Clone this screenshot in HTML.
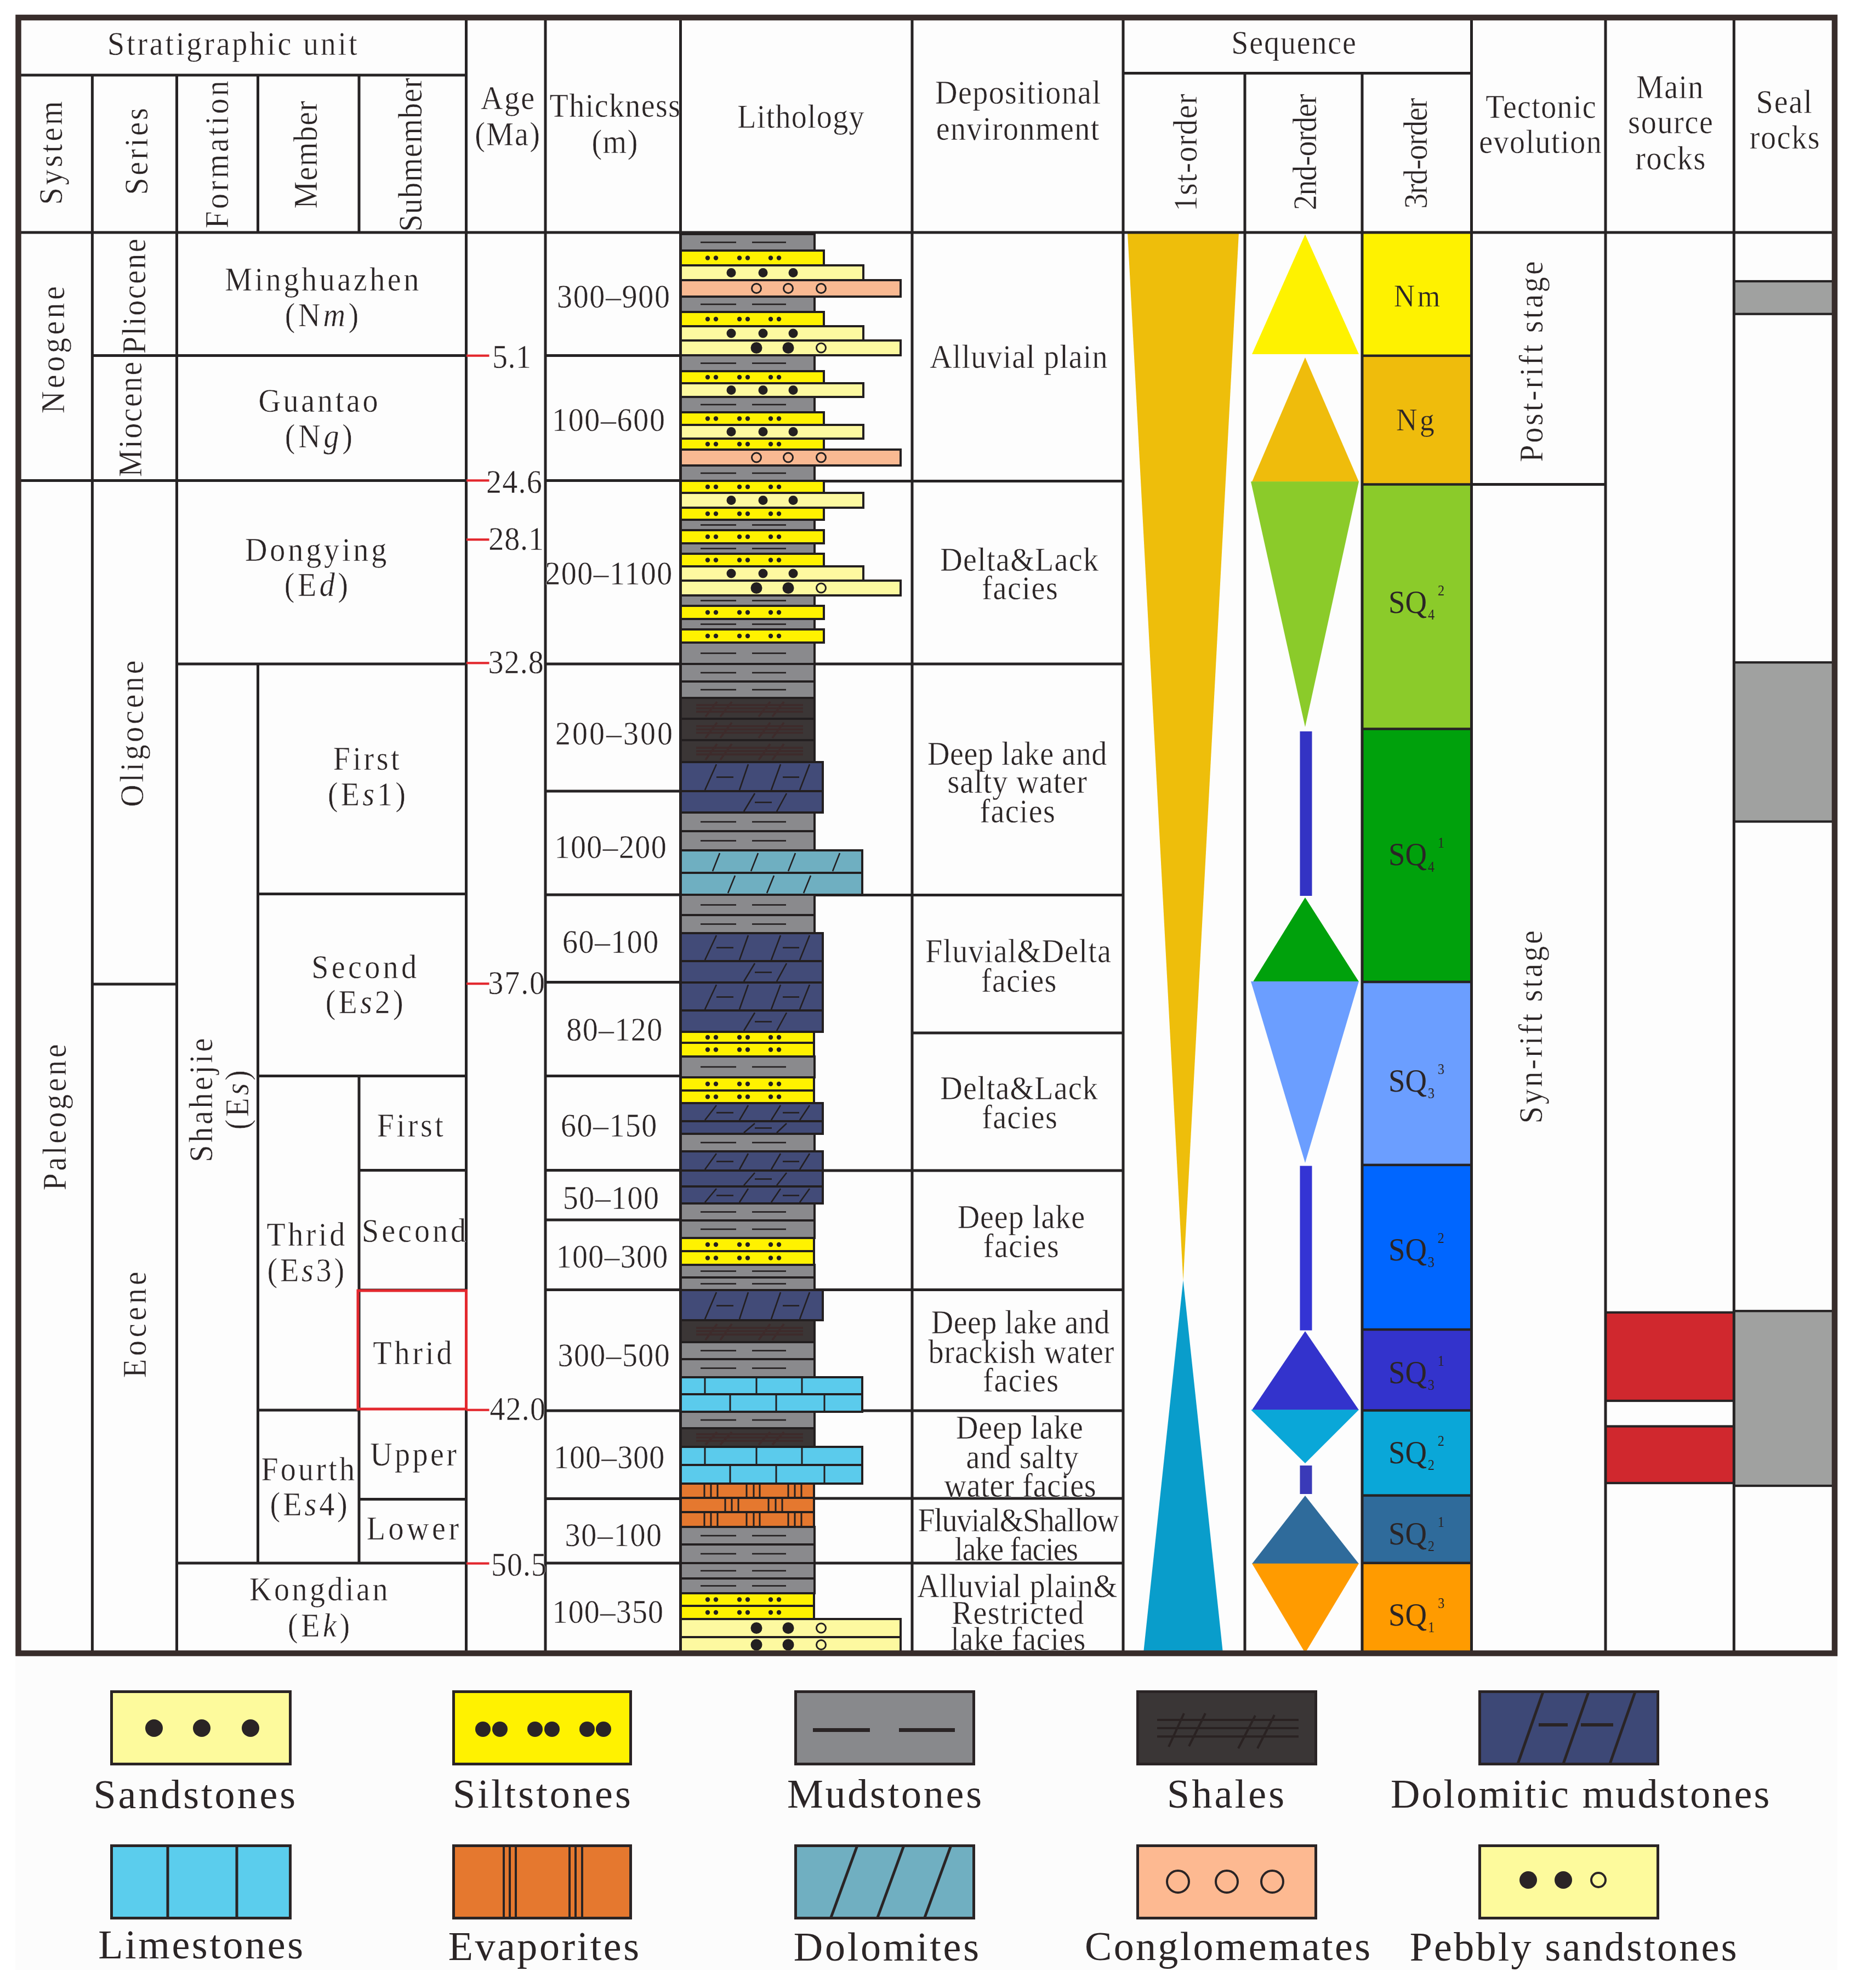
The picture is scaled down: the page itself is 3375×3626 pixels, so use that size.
<!DOCTYPE html><html><head><meta charset="utf-8"><style>html,body{margin:0;padding:0;background:#fff;width:3375px;height:3626px}svg{display:block}</style></head><body><svg width="3375" height="3626" viewBox="0 0 3375 3626">
<rect x="0" y="0" width="3375" height="3626" fill="#ffffff"/>
<rect x="28" y="3014" width="3324" height="579" fill="#fcfcfc"/>
<rect x="33" y="32" width="3314" height="2982" fill="#fdfdfd"/>
<polygon points="2057,424 2260,424 2158.5,2336" fill="#eebe0b"/>
<polygon points="2158.5,2335 2086,3015 2231,3015" fill="#099dcb"/>
<polygon points="2381,427.4 2284,646 2479,646" fill="#fef200"/>
<polygon points="2381,652 2284,878.8 2479,878.8" fill="#efbc0c"/>
<polygon points="2282,878.2 2479,878.2 2381,1326" fill="#8bcb2a"/>
<rect x="2371.5" y="1334" width="22" height="300" fill="#3333c4"/>
<polygon points="2381,1637 2286,1790.6 2479,1790.6" fill="#00a10c"/>
<polygon points="2282,1790 2479,1790 2381,2121" fill="#6b9eff"/>
<rect x="2371.5" y="2126.5" width="22" height="300" fill="#3434d4"/>
<polygon points="2381,2428 2284,2571.8 2479,2571.8" fill="#3333cc"/>
<polygon points="2282,2571.2 2479,2571.2 2381,2669" fill="#0aa7d8"/>
<rect x="2371.5" y="2673" width="22" height="52" fill="#3a3ab8"/>
<polygon points="2381,2728 2284,2852.3 2479,2852.3" fill="#2f6b9b"/>
<polygon points="2284,2851.7 2479,2851.7 2381,3015" fill="#ff9b00"/>
<rect x="2485" y="424" width="199.5" height="224.79999999999995" fill="#fef200"/>
<rect x="2485" y="648.8" width="199.5" height="234.70000000000005" fill="#efbc0c"/>
<rect x="2485" y="883.5" width="199.5" height="446.0" fill="#8bcb2a"/>
<rect x="2485" y="1329.5" width="199.5" height="461.5" fill="#00a10c"/>
<rect x="2485" y="1791" width="199.5" height="333.8000000000002" fill="#6b9eff"/>
<rect x="2485" y="2124.8" width="199.5" height="300.1999999999998" fill="#0066ff"/>
<rect x="2485" y="2425" width="199.5" height="147.5" fill="#3333cc"/>
<rect x="2485" y="2572.5" width="199.5" height="155.0999999999999" fill="#0aa7d8"/>
<rect x="2485" y="2727.6" width="199.5" height="123.20000000000027" fill="#2f6b9b"/>
<rect x="2485" y="2850.8" width="199.5" height="164.19999999999982" fill="#ff9b00"/>
<rect x="3163.3" y="513" width="184" height="59.700000000000045" fill="#a0a1a0"/>
<rect x="3163.3" y="1208.2" width="184" height="290.29999999999995" fill="#a0a1a0"/>
<rect x="3163.3" y="2391.2" width="184" height="318.8000000000002" fill="#a0a1a0"/>
<rect x="2929" y="2393.8" width="234.3" height="161.19999999999982" fill="#d0282e"/>
<rect x="2929" y="2601.5" width="234.3" height="103.5" fill="#d0282e"/>
<rect x="33" y="134.5" width="817.5" height="5" fill="#262324"/>
<rect x="2049" y="131.0" width="635.5" height="5" fill="#262324"/>
<rect x="33" y="421.5" width="3314" height="5" fill="#262324"/>
<rect x="165.9" y="137" width="5" height="287" fill="#262324"/>
<rect x="320.0" y="137" width="5" height="287" fill="#262324"/>
<rect x="468.0" y="137" width="5" height="287" fill="#262324"/>
<rect x="652.5" y="137" width="5" height="287" fill="#262324"/>
<rect x="2268.5" y="133.5" width="5" height="290.5" fill="#262324"/>
<rect x="2482.5" y="133.5" width="5" height="290.5" fill="#262324"/>
<rect x="848.0" y="32" width="5" height="392" fill="#262324"/>
<rect x="992.5" y="32" width="5" height="392" fill="#262324"/>
<rect x="1239.0" y="32" width="5" height="392" fill="#262324"/>
<rect x="1661.5" y="32" width="5" height="392" fill="#262324"/>
<rect x="2046.5" y="32" width="5" height="392" fill="#262324"/>
<rect x="2682.0" y="32" width="5" height="392" fill="#262324"/>
<rect x="2926.5" y="32" width="5" height="392" fill="#262324"/>
<rect x="3160.8" y="32" width="5" height="392" fill="#262324"/>
<rect x="165.9" y="424" width="5" height="2591" fill="#262324"/>
<rect x="320.0" y="424" width="5" height="2591" fill="#262324"/>
<rect x="468.0" y="1211" width="5" height="1640" fill="#262324"/>
<rect x="652.5" y="1962.5" width="5" height="888.5" fill="#262324"/>
<rect x="848.0" y="424" width="5" height="2591" fill="#262324"/>
<rect x="992.5" y="424" width="5" height="2591" fill="#262324"/>
<rect x="1239.0" y="424" width="5" height="2591" fill="#262324"/>
<rect x="1661.5" y="424" width="5" height="2591" fill="#262324"/>
<rect x="2046.5" y="424" width="5" height="2591" fill="#262324"/>
<rect x="2268.5" y="424" width="5" height="2591" fill="#262324"/>
<rect x="2482.5" y="424" width="5" height="2591" fill="#262324"/>
<rect x="2682.0" y="424" width="5" height="2591" fill="#262324"/>
<rect x="2926.5" y="424" width="5" height="2591" fill="#262324"/>
<rect x="3160.8" y="424" width="5" height="2591" fill="#262324"/>
<rect x="33" y="874.0" width="817.5" height="5" fill="#262324"/>
<rect x="168.4" y="646.0" width="682.1" height="5" fill="#262324"/>
<rect x="168.4" y="1792.5" width="154.1" height="5" fill="#262324"/>
<rect x="322.5" y="1208.5" width="528.0" height="5" fill="#262324"/>
<rect x="470.5" y="1628.0" width="380.0" height="5" fill="#262324"/>
<rect x="470.5" y="1960.0" width="380.0" height="5" fill="#262324"/>
<rect x="470.5" y="2569.5" width="184.5" height="5" fill="#262324"/>
<rect x="322.5" y="2848.5" width="528.0" height="5" fill="#262324"/>
<rect x="655" y="2132.0" width="195.5" height="5" fill="#262324"/>
<rect x="655" y="2732.0" width="195.5" height="5" fill="#262324"/>
<rect x="655" y="2350.5" width="195.5" height="5" fill="#262324"/>
<rect x="995" y="646.0" width="246.5" height="5" fill="#262324"/>
<rect x="995" y="874.0" width="246.5" height="5" fill="#262324"/>
<rect x="995" y="1208.5" width="246.5" height="5" fill="#262324"/>
<rect x="995" y="1440.5" width="246.5" height="5" fill="#262324"/>
<rect x="995" y="1629.5" width="246.5" height="5" fill="#262324"/>
<rect x="995" y="1789.0" width="246.5" height="5" fill="#262324"/>
<rect x="995" y="1960.0" width="246.5" height="5" fill="#262324"/>
<rect x="995" y="2132.0" width="246.5" height="5" fill="#262324"/>
<rect x="995" y="2222.5" width="246.5" height="5" fill="#262324"/>
<rect x="995" y="2350.0" width="246.5" height="5" fill="#262324"/>
<rect x="995" y="2570.5" width="246.5" height="5" fill="#262324"/>
<rect x="995" y="2731.0" width="246.5" height="5" fill="#262324"/>
<rect x="995" y="2848.5" width="246.5" height="5" fill="#262324"/>
<rect x="1241.5" y="875.0" width="807.5" height="5" fill="#262324"/>
<rect x="1241.5" y="1208.5" width="807.5" height="5" fill="#262324"/>
<rect x="1241.5" y="1630.0" width="807.5" height="5" fill="#262324"/>
<rect x="1241.5" y="2132.5" width="807.5" height="5" fill="#262324"/>
<rect x="1241.5" y="2350.0" width="807.5" height="5" fill="#262324"/>
<rect x="1241.5" y="2570.5" width="807.5" height="5" fill="#262324"/>
<rect x="1241.5" y="2730.5" width="807.5" height="5" fill="#262324"/>
<rect x="1241.5" y="2848.5" width="807.5" height="5" fill="#262324"/>
<rect x="1664" y="1881.5" width="385" height="5" fill="#262324"/>
<rect x="2485" y="646.55" width="199.5" height="4.5" fill="#262324"/>
<rect x="2485" y="881.25" width="199.5" height="4.5" fill="#262324"/>
<rect x="2485" y="1327.25" width="199.5" height="4.5" fill="#262324"/>
<rect x="2485" y="1788.75" width="199.5" height="4.5" fill="#262324"/>
<rect x="2485" y="2122.55" width="199.5" height="4.5" fill="#262324"/>
<rect x="2485" y="2422.75" width="199.5" height="4.5" fill="#262324"/>
<rect x="2485" y="2570.25" width="199.5" height="4.5" fill="#262324"/>
<rect x="2485" y="2725.35" width="199.5" height="4.5" fill="#262324"/>
<rect x="2485" y="2848.55" width="199.5" height="4.5" fill="#262324"/>
<rect x="2684.5" y="881.0" width="244.5" height="5" fill="#262324"/>
<rect x="3163.3" y="510.9" width="183.69999999999982" height="4.2" fill="#262324"/>
<rect x="3163.3" y="570.6" width="183.69999999999982" height="4.2" fill="#262324"/>
<rect x="3163.3" y="1206.1000000000001" width="183.69999999999982" height="4.2" fill="#262324"/>
<rect x="3163.3" y="1496.4" width="183.69999999999982" height="4.2" fill="#262324"/>
<rect x="3163.3" y="2389.1" width="183.69999999999982" height="4.2" fill="#262324"/>
<rect x="3163.3" y="2707.9" width="183.69999999999982" height="4.2" fill="#262324"/>
<rect x="2929" y="2391.7000000000003" width="234.30000000000018" height="4.2" fill="#262324"/>
<rect x="2929" y="2552.9" width="234.30000000000018" height="4.2" fill="#262324"/>
<rect x="2929" y="2599.4" width="234.30000000000018" height="4.2" fill="#262324"/>
<rect x="2929" y="2702.9" width="234.30000000000018" height="4.2" fill="#262324"/>
<rect x="1242" y="427" width="244" height="30" fill="#8a8a8d" stroke="#231f20" stroke-width="4"/>
<rect x="1278" y="440.7" width="65" height="2.6" fill="#231f20"/><rect x="1372" y="440.7" width="62" height="2.6" fill="#231f20"/>
<rect x="1242" y="457" width="261" height="27" fill="#fff200" stroke="#231f20" stroke-width="4"/>
<circle cx="1291" cy="470.5" r="4.2" fill="#231f20"/>
<circle cx="1306" cy="470.5" r="4.2" fill="#231f20"/>
<circle cx="1349" cy="470.5" r="4.2" fill="#231f20"/>
<circle cx="1364" cy="470.5" r="4.2" fill="#231f20"/>
<circle cx="1406" cy="470.5" r="4.2" fill="#231f20"/>
<circle cx="1421" cy="470.5" r="4.2" fill="#231f20"/>
<rect x="1242" y="484" width="333" height="27" fill="#fdf9a0" stroke="#231f20" stroke-width="4"/>
<circle cx="1334" cy="497.5" r="8.5" fill="#231f20"/>
<circle cx="1392" cy="497.5" r="8.5" fill="#231f20"/>
<circle cx="1447" cy="497.5" r="8.5" fill="#231f20"/>
<rect x="1242" y="511" width="401" height="30" fill="#f9b992" stroke="#231f20" stroke-width="4"/>
<circle cx="1380" cy="526.0" r="8.5" fill="none" stroke="#231f20" stroke-width="3"/>
<circle cx="1438" cy="526.0" r="8.5" fill="none" stroke="#231f20" stroke-width="3"/>
<circle cx="1498" cy="526.0" r="8.5" fill="none" stroke="#231f20" stroke-width="3"/>
<rect x="1242" y="541" width="244" height="28" fill="#8a8a8d" stroke="#231f20" stroke-width="4"/>
<rect x="1278" y="553.7" width="65" height="2.6" fill="#231f20"/><rect x="1372" y="553.7" width="62" height="2.6" fill="#231f20"/>
<rect x="1242" y="569" width="261" height="26" fill="#fff200" stroke="#231f20" stroke-width="4"/>
<circle cx="1291" cy="582.0" r="4.2" fill="#231f20"/>
<circle cx="1306" cy="582.0" r="4.2" fill="#231f20"/>
<circle cx="1349" cy="582.0" r="4.2" fill="#231f20"/>
<circle cx="1364" cy="582.0" r="4.2" fill="#231f20"/>
<circle cx="1406" cy="582.0" r="4.2" fill="#231f20"/>
<circle cx="1421" cy="582.0" r="4.2" fill="#231f20"/>
<rect x="1242" y="595" width="333" height="26" fill="#fdf9a0" stroke="#231f20" stroke-width="4"/>
<circle cx="1334" cy="608.0" r="8.5" fill="#231f20"/>
<circle cx="1392" cy="608.0" r="8.5" fill="#231f20"/>
<circle cx="1447" cy="608.0" r="8.5" fill="#231f20"/>
<rect x="1242" y="621" width="401" height="27" fill="#fdf9a0" stroke="#231f20" stroke-width="4"/>
<circle cx="1380" cy="634.5" r="10.5" fill="#231f20"/>
<circle cx="1438" cy="634.5" r="10.5" fill="#231f20"/>
<circle cx="1498" cy="634.5" r="8.5" fill="none" stroke="#231f20" stroke-width="3"/>
<rect x="1242" y="648" width="244" height="29" fill="#8a8a8d" stroke="#231f20" stroke-width="4"/>
<rect x="1278" y="661.2" width="65" height="2.6" fill="#231f20"/><rect x="1372" y="661.2" width="62" height="2.6" fill="#231f20"/>
<rect x="1242" y="677" width="261" height="22" fill="#fff200" stroke="#231f20" stroke-width="4"/>
<circle cx="1291" cy="688.0" r="4.2" fill="#231f20"/>
<circle cx="1306" cy="688.0" r="4.2" fill="#231f20"/>
<circle cx="1349" cy="688.0" r="4.2" fill="#231f20"/>
<circle cx="1364" cy="688.0" r="4.2" fill="#231f20"/>
<circle cx="1406" cy="688.0" r="4.2" fill="#231f20"/>
<circle cx="1421" cy="688.0" r="4.2" fill="#231f20"/>
<rect x="1242" y="699" width="333" height="25" fill="#fdf9a0" stroke="#231f20" stroke-width="4"/>
<circle cx="1334" cy="711.5" r="8.5" fill="#231f20"/>
<circle cx="1392" cy="711.5" r="8.5" fill="#231f20"/>
<circle cx="1447" cy="711.5" r="8.5" fill="#231f20"/>
<rect x="1242" y="724" width="244" height="28" fill="#8a8a8d" stroke="#231f20" stroke-width="4"/>
<rect x="1278" y="736.7" width="65" height="2.6" fill="#231f20"/><rect x="1372" y="736.7" width="62" height="2.6" fill="#231f20"/>
<rect x="1242" y="752" width="261" height="23" fill="#fff200" stroke="#231f20" stroke-width="4"/>
<circle cx="1291" cy="763.5" r="4.2" fill="#231f20"/>
<circle cx="1306" cy="763.5" r="4.2" fill="#231f20"/>
<circle cx="1349" cy="763.5" r="4.2" fill="#231f20"/>
<circle cx="1364" cy="763.5" r="4.2" fill="#231f20"/>
<circle cx="1406" cy="763.5" r="4.2" fill="#231f20"/>
<circle cx="1421" cy="763.5" r="4.2" fill="#231f20"/>
<rect x="1242" y="775" width="333" height="25" fill="#fdf9a0" stroke="#231f20" stroke-width="4"/>
<circle cx="1334" cy="787.5" r="8.5" fill="#231f20"/>
<circle cx="1392" cy="787.5" r="8.5" fill="#231f20"/>
<circle cx="1447" cy="787.5" r="8.5" fill="#231f20"/>
<rect x="1242" y="800" width="261" height="20" fill="#fff200" stroke="#231f20" stroke-width="4"/>
<circle cx="1291" cy="810.0" r="4.2" fill="#231f20"/>
<circle cx="1306" cy="810.0" r="4.2" fill="#231f20"/>
<circle cx="1349" cy="810.0" r="4.2" fill="#231f20"/>
<circle cx="1364" cy="810.0" r="4.2" fill="#231f20"/>
<circle cx="1406" cy="810.0" r="4.2" fill="#231f20"/>
<circle cx="1421" cy="810.0" r="4.2" fill="#231f20"/>
<rect x="1242" y="820" width="401" height="29" fill="#f9b992" stroke="#231f20" stroke-width="4"/>
<circle cx="1380" cy="834.5" r="8.5" fill="none" stroke="#231f20" stroke-width="3"/>
<circle cx="1438" cy="834.5" r="8.5" fill="none" stroke="#231f20" stroke-width="3"/>
<circle cx="1498" cy="834.5" r="8.5" fill="none" stroke="#231f20" stroke-width="3"/>
<rect x="1242" y="849" width="244" height="28" fill="#8a8a8d" stroke="#231f20" stroke-width="4"/>
<rect x="1278" y="861.7" width="65" height="2.6" fill="#231f20"/><rect x="1372" y="861.7" width="62" height="2.6" fill="#231f20"/>
<rect x="1242" y="877" width="261" height="22" fill="#fff200" stroke="#231f20" stroke-width="4"/>
<circle cx="1291" cy="888.0" r="4.2" fill="#231f20"/>
<circle cx="1306" cy="888.0" r="4.2" fill="#231f20"/>
<circle cx="1349" cy="888.0" r="4.2" fill="#231f20"/>
<circle cx="1364" cy="888.0" r="4.2" fill="#231f20"/>
<circle cx="1406" cy="888.0" r="4.2" fill="#231f20"/>
<circle cx="1421" cy="888.0" r="4.2" fill="#231f20"/>
<rect x="1242" y="899" width="333" height="27" fill="#fdf9a0" stroke="#231f20" stroke-width="4"/>
<circle cx="1334" cy="912.5" r="8.5" fill="#231f20"/>
<circle cx="1392" cy="912.5" r="8.5" fill="#231f20"/>
<circle cx="1447" cy="912.5" r="8.5" fill="#231f20"/>
<rect x="1242" y="926" width="261" height="22" fill="#fff200" stroke="#231f20" stroke-width="4"/>
<circle cx="1291" cy="937.0" r="4.2" fill="#231f20"/>
<circle cx="1306" cy="937.0" r="4.2" fill="#231f20"/>
<circle cx="1349" cy="937.0" r="4.2" fill="#231f20"/>
<circle cx="1364" cy="937.0" r="4.2" fill="#231f20"/>
<circle cx="1406" cy="937.0" r="4.2" fill="#231f20"/>
<circle cx="1421" cy="937.0" r="4.2" fill="#231f20"/>
<rect x="1242" y="948" width="244" height="19" fill="#8a8a8d" stroke="#231f20" stroke-width="4"/>
<rect x="1278" y="956.2" width="65" height="2.6" fill="#231f20"/><rect x="1372" y="956.2" width="62" height="2.6" fill="#231f20"/>
<rect x="1242" y="967" width="261" height="24" fill="#fff200" stroke="#231f20" stroke-width="4"/>
<circle cx="1291" cy="979.0" r="4.2" fill="#231f20"/>
<circle cx="1306" cy="979.0" r="4.2" fill="#231f20"/>
<circle cx="1349" cy="979.0" r="4.2" fill="#231f20"/>
<circle cx="1364" cy="979.0" r="4.2" fill="#231f20"/>
<circle cx="1406" cy="979.0" r="4.2" fill="#231f20"/>
<circle cx="1421" cy="979.0" r="4.2" fill="#231f20"/>
<rect x="1242" y="991" width="244" height="19" fill="#8a8a8d" stroke="#231f20" stroke-width="4"/>
<rect x="1278" y="999.2" width="65" height="2.6" fill="#231f20"/><rect x="1372" y="999.2" width="62" height="2.6" fill="#231f20"/>
<rect x="1242" y="1010" width="261" height="23" fill="#fff200" stroke="#231f20" stroke-width="4"/>
<circle cx="1291" cy="1021.5" r="4.2" fill="#231f20"/>
<circle cx="1306" cy="1021.5" r="4.2" fill="#231f20"/>
<circle cx="1349" cy="1021.5" r="4.2" fill="#231f20"/>
<circle cx="1364" cy="1021.5" r="4.2" fill="#231f20"/>
<circle cx="1406" cy="1021.5" r="4.2" fill="#231f20"/>
<circle cx="1421" cy="1021.5" r="4.2" fill="#231f20"/>
<rect x="1242" y="1033" width="333" height="26" fill="#fdf9a0" stroke="#231f20" stroke-width="4"/>
<circle cx="1334" cy="1046.0" r="8.5" fill="#231f20"/>
<circle cx="1392" cy="1046.0" r="8.5" fill="#231f20"/>
<circle cx="1447" cy="1046.0" r="8.5" fill="#231f20"/>
<rect x="1242" y="1059" width="401" height="27" fill="#fdf9a0" stroke="#231f20" stroke-width="4"/>
<circle cx="1380" cy="1072.5" r="10.5" fill="#231f20"/>
<circle cx="1438" cy="1072.5" r="10.5" fill="#231f20"/>
<circle cx="1498" cy="1072.5" r="8.5" fill="none" stroke="#231f20" stroke-width="3"/>
<rect x="1242" y="1086" width="244" height="19" fill="#8a8a8d" stroke="#231f20" stroke-width="4"/>
<rect x="1278" y="1094.2" width="65" height="2.6" fill="#231f20"/><rect x="1372" y="1094.2" width="62" height="2.6" fill="#231f20"/>
<rect x="1242" y="1105" width="261" height="24" fill="#fff200" stroke="#231f20" stroke-width="4"/>
<circle cx="1291" cy="1117.0" r="4.2" fill="#231f20"/>
<circle cx="1306" cy="1117.0" r="4.2" fill="#231f20"/>
<circle cx="1349" cy="1117.0" r="4.2" fill="#231f20"/>
<circle cx="1364" cy="1117.0" r="4.2" fill="#231f20"/>
<circle cx="1406" cy="1117.0" r="4.2" fill="#231f20"/>
<circle cx="1421" cy="1117.0" r="4.2" fill="#231f20"/>
<rect x="1242" y="1129" width="244" height="19" fill="#8a8a8d" stroke="#231f20" stroke-width="4"/>
<rect x="1278" y="1137.2" width="65" height="2.6" fill="#231f20"/><rect x="1372" y="1137.2" width="62" height="2.6" fill="#231f20"/>
<rect x="1242" y="1148" width="261" height="24" fill="#fff200" stroke="#231f20" stroke-width="4"/>
<circle cx="1291" cy="1160.0" r="4.2" fill="#231f20"/>
<circle cx="1306" cy="1160.0" r="4.2" fill="#231f20"/>
<circle cx="1349" cy="1160.0" r="4.2" fill="#231f20"/>
<circle cx="1364" cy="1160.0" r="4.2" fill="#231f20"/>
<circle cx="1406" cy="1160.0" r="4.2" fill="#231f20"/>
<circle cx="1421" cy="1160.0" r="4.2" fill="#231f20"/>
<rect x="1242" y="1172" width="244" height="39" fill="#8a8a8d" stroke="#231f20" stroke-width="4"/>
<rect x="1278" y="1190.2" width="65" height="2.6" fill="#231f20"/><rect x="1372" y="1190.2" width="62" height="2.6" fill="#231f20"/>
<rect x="1242" y="1211" width="244" height="32" fill="#8a8a8d" stroke="#231f20" stroke-width="4"/>
<rect x="1278" y="1225.7" width="65" height="2.6" fill="#231f20"/><rect x="1372" y="1225.7" width="62" height="2.6" fill="#231f20"/>
<rect x="1242" y="1243" width="244" height="30" fill="#8a8a8d" stroke="#231f20" stroke-width="4"/>
<rect x="1278" y="1256.7" width="65" height="2.6" fill="#231f20"/><rect x="1372" y="1256.7" width="62" height="2.6" fill="#231f20"/>
<rect x="1242" y="1273" width="244" height="38" fill="#3b3636" stroke="#231f20" stroke-width="4"/>
<rect x="1270" y="1284.2" width="195" height="3.6" fill="#3e2b2b"/>
<rect x="1270" y="1290.2" width="195" height="3.6" fill="#3e2b2b"/>
<rect x="1270" y="1296.2" width="195" height="3.6" fill="#3e2b2b"/>
<line x1="1287" y1="1307" x2="1308" y2="1280" stroke="#3e2b2b" stroke-width="3.6"/>
<line x1="1314" y1="1307" x2="1335" y2="1280" stroke="#3e2b2b" stroke-width="3.6"/>
<line x1="1384" y1="1307" x2="1405" y2="1280" stroke="#3e2b2b" stroke-width="3.6"/>
<line x1="1409" y1="1307" x2="1430" y2="1280" stroke="#3e2b2b" stroke-width="3.6"/>
<rect x="1242" y="1311" width="244" height="39" fill="#3b3636" stroke="#231f20" stroke-width="4"/>
<rect x="1270" y="1322.7" width="195" height="3.6" fill="#3e2b2b"/>
<rect x="1270" y="1328.7" width="195" height="3.6" fill="#3e2b2b"/>
<rect x="1270" y="1334.7" width="195" height="3.6" fill="#3e2b2b"/>
<line x1="1287" y1="1346" x2="1308" y2="1318" stroke="#3e2b2b" stroke-width="3.6"/>
<line x1="1314" y1="1346" x2="1335" y2="1318" stroke="#3e2b2b" stroke-width="3.6"/>
<line x1="1384" y1="1346" x2="1405" y2="1318" stroke="#3e2b2b" stroke-width="3.6"/>
<line x1="1409" y1="1346" x2="1430" y2="1318" stroke="#3e2b2b" stroke-width="3.6"/>
<rect x="1242" y="1350" width="244" height="40" fill="#3b3636" stroke="#231f20" stroke-width="4"/>
<rect x="1270" y="1362.2" width="195" height="3.6" fill="#3e2b2b"/>
<rect x="1270" y="1368.2" width="195" height="3.6" fill="#3e2b2b"/>
<rect x="1270" y="1374.2" width="195" height="3.6" fill="#3e2b2b"/>
<line x1="1287" y1="1386" x2="1308" y2="1357" stroke="#3e2b2b" stroke-width="3.6"/>
<line x1="1314" y1="1386" x2="1335" y2="1357" stroke="#3e2b2b" stroke-width="3.6"/>
<line x1="1384" y1="1386" x2="1405" y2="1357" stroke="#3e2b2b" stroke-width="3.6"/>
<line x1="1409" y1="1386" x2="1430" y2="1357" stroke="#3e2b2b" stroke-width="3.6"/>
<rect x="1242" y="1390" width="259" height="53" fill="#424b78" stroke="#231f20" stroke-width="4"/>
<line x1="1286" y1="1441" x2="1307" y2="1394" stroke="#231f20" stroke-width="2.6"/>
<line x1="1307" y1="1417.5" x2="1338" y2="1417.5" stroke="#231f20" stroke-width="2.6"/>
<line x1="1349" y1="1441" x2="1365" y2="1394" stroke="#231f20" stroke-width="2.6"/>
<line x1="1407" y1="1441" x2="1424" y2="1394" stroke="#231f20" stroke-width="2.6"/>
<line x1="1428" y1="1417.5" x2="1458" y2="1417.5" stroke="#231f20" stroke-width="2.6"/>
<line x1="1459" y1="1441" x2="1477" y2="1394" stroke="#231f20" stroke-width="2.6"/>
<rect x="1242" y="1443" width="259" height="39" fill="#424b78" stroke="#231f20" stroke-width="4"/>
<line x1="1357" y1="1480" x2="1377" y2="1447" stroke="#231f20" stroke-width="2.6"/>
<line x1="1377" y1="1463.5" x2="1408" y2="1463.5" stroke="#231f20" stroke-width="2.6"/>
<line x1="1417" y1="1480" x2="1435" y2="1447" stroke="#231f20" stroke-width="2.6"/>
<rect x="1242" y="1482" width="244" height="34" fill="#8a8a8d" stroke="#231f20" stroke-width="4"/>
<rect x="1278" y="1497.7" width="65" height="2.6" fill="#231f20"/><rect x="1372" y="1497.7" width="62" height="2.6" fill="#231f20"/>
<rect x="1242" y="1516" width="244" height="35" fill="#8a8a8d" stroke="#231f20" stroke-width="4"/>
<rect x="1278" y="1532.2" width="65" height="2.6" fill="#231f20"/><rect x="1372" y="1532.2" width="62" height="2.6" fill="#231f20"/>
<rect x="1242" y="1551" width="331" height="41" fill="#6fafc1" stroke="#231f20" stroke-width="4"/>
<line x1="1300" y1="1589" x2="1313" y2="1556" stroke="#231f20" stroke-width="2.6"/>
<line x1="1370" y1="1589" x2="1383" y2="1556" stroke="#231f20" stroke-width="2.6"/>
<line x1="1438" y1="1589" x2="1451" y2="1556" stroke="#231f20" stroke-width="2.6"/>
<line x1="1519" y1="1589" x2="1532" y2="1556" stroke="#231f20" stroke-width="2.6"/>
<rect x="1242" y="1592" width="331" height="40" fill="#6fafc1" stroke="#231f20" stroke-width="4"/>
<line x1="1328" y1="1629" x2="1341" y2="1597" stroke="#231f20" stroke-width="2.6"/>
<line x1="1399" y1="1629" x2="1412" y2="1597" stroke="#231f20" stroke-width="2.6"/>
<line x1="1466" y1="1629" x2="1479" y2="1597" stroke="#231f20" stroke-width="2.6"/>
<rect x="1242" y="1632" width="244" height="37" fill="#8a8a8d" stroke="#231f20" stroke-width="4"/>
<rect x="1278" y="1649.2" width="65" height="2.6" fill="#231f20"/><rect x="1372" y="1649.2" width="62" height="2.6" fill="#231f20"/>
<rect x="1242" y="1669" width="244" height="33" fill="#8a8a8d" stroke="#231f20" stroke-width="4"/>
<rect x="1278" y="1684.2" width="65" height="2.6" fill="#231f20"/><rect x="1372" y="1684.2" width="62" height="2.6" fill="#231f20"/>
<rect x="1242" y="1702" width="259" height="51" fill="#424b78" stroke="#231f20" stroke-width="4"/>
<line x1="1286" y1="1751" x2="1307" y2="1706" stroke="#231f20" stroke-width="2.6"/>
<line x1="1307" y1="1728.5" x2="1338" y2="1728.5" stroke="#231f20" stroke-width="2.6"/>
<line x1="1349" y1="1751" x2="1365" y2="1706" stroke="#231f20" stroke-width="2.6"/>
<line x1="1407" y1="1751" x2="1424" y2="1706" stroke="#231f20" stroke-width="2.6"/>
<line x1="1428" y1="1728.5" x2="1458" y2="1728.5" stroke="#231f20" stroke-width="2.6"/>
<line x1="1459" y1="1751" x2="1477" y2="1706" stroke="#231f20" stroke-width="2.6"/>
<rect x="1242" y="1753" width="259" height="39" fill="#424b78" stroke="#231f20" stroke-width="4"/>
<line x1="1357" y1="1790" x2="1377" y2="1757" stroke="#231f20" stroke-width="2.6"/>
<line x1="1377" y1="1773.5" x2="1408" y2="1773.5" stroke="#231f20" stroke-width="2.6"/>
<line x1="1417" y1="1790" x2="1435" y2="1757" stroke="#231f20" stroke-width="2.6"/>
<rect x="1242" y="1792" width="259" height="51" fill="#424b78" stroke="#231f20" stroke-width="4"/>
<line x1="1286" y1="1841" x2="1307" y2="1796" stroke="#231f20" stroke-width="2.6"/>
<line x1="1307" y1="1818.5" x2="1338" y2="1818.5" stroke="#231f20" stroke-width="2.6"/>
<line x1="1349" y1="1841" x2="1365" y2="1796" stroke="#231f20" stroke-width="2.6"/>
<line x1="1407" y1="1841" x2="1424" y2="1796" stroke="#231f20" stroke-width="2.6"/>
<line x1="1428" y1="1818.5" x2="1458" y2="1818.5" stroke="#231f20" stroke-width="2.6"/>
<line x1="1459" y1="1841" x2="1477" y2="1796" stroke="#231f20" stroke-width="2.6"/>
<rect x="1242" y="1843" width="259" height="39" fill="#424b78" stroke="#231f20" stroke-width="4"/>
<line x1="1357" y1="1880" x2="1377" y2="1847" stroke="#231f20" stroke-width="2.6"/>
<line x1="1377" y1="1863.5" x2="1408" y2="1863.5" stroke="#231f20" stroke-width="2.6"/>
<line x1="1417" y1="1880" x2="1435" y2="1847" stroke="#231f20" stroke-width="2.6"/>
<rect x="1242" y="1882" width="243" height="20" fill="#fff200" stroke="#231f20" stroke-width="4"/>
<circle cx="1291" cy="1892.0" r="4.2" fill="#231f20"/>
<circle cx="1306" cy="1892.0" r="4.2" fill="#231f20"/>
<circle cx="1349" cy="1892.0" r="4.2" fill="#231f20"/>
<circle cx="1364" cy="1892.0" r="4.2" fill="#231f20"/>
<circle cx="1406" cy="1892.0" r="4.2" fill="#231f20"/>
<circle cx="1421" cy="1892.0" r="4.2" fill="#231f20"/>
<rect x="1242" y="1902" width="243" height="25" fill="#fff200" stroke="#231f20" stroke-width="4"/>
<circle cx="1291" cy="1914.5" r="4.2" fill="#231f20"/>
<circle cx="1306" cy="1914.5" r="4.2" fill="#231f20"/>
<circle cx="1349" cy="1914.5" r="4.2" fill="#231f20"/>
<circle cx="1364" cy="1914.5" r="4.2" fill="#231f20"/>
<circle cx="1406" cy="1914.5" r="4.2" fill="#231f20"/>
<circle cx="1421" cy="1914.5" r="4.2" fill="#231f20"/>
<rect x="1242" y="1927" width="244" height="38" fill="#8a8a8d" stroke="#231f20" stroke-width="4"/>
<rect x="1278" y="1944.7" width="65" height="2.6" fill="#231f20"/><rect x="1372" y="1944.7" width="62" height="2.6" fill="#231f20"/>
<rect x="1242" y="1965" width="243" height="24" fill="#fff200" stroke="#231f20" stroke-width="4"/>
<circle cx="1291" cy="1977.0" r="4.2" fill="#231f20"/>
<circle cx="1306" cy="1977.0" r="4.2" fill="#231f20"/>
<circle cx="1349" cy="1977.0" r="4.2" fill="#231f20"/>
<circle cx="1364" cy="1977.0" r="4.2" fill="#231f20"/>
<circle cx="1406" cy="1977.0" r="4.2" fill="#231f20"/>
<circle cx="1421" cy="1977.0" r="4.2" fill="#231f20"/>
<rect x="1242" y="1989" width="243" height="23" fill="#fff200" stroke="#231f20" stroke-width="4"/>
<circle cx="1291" cy="2000.5" r="4.2" fill="#231f20"/>
<circle cx="1306" cy="2000.5" r="4.2" fill="#231f20"/>
<circle cx="1349" cy="2000.5" r="4.2" fill="#231f20"/>
<circle cx="1364" cy="2000.5" r="4.2" fill="#231f20"/>
<circle cx="1406" cy="2000.5" r="4.2" fill="#231f20"/>
<circle cx="1421" cy="2000.5" r="4.2" fill="#231f20"/>
<rect x="1242" y="2012" width="259" height="33" fill="#424b78" stroke="#231f20" stroke-width="4"/>
<line x1="1286" y1="2043" x2="1307" y2="2016" stroke="#231f20" stroke-width="2.6"/>
<line x1="1307" y1="2029.5" x2="1338" y2="2029.5" stroke="#231f20" stroke-width="2.6"/>
<line x1="1349" y1="2043" x2="1365" y2="2016" stroke="#231f20" stroke-width="2.6"/>
<line x1="1407" y1="2043" x2="1424" y2="2016" stroke="#231f20" stroke-width="2.6"/>
<line x1="1428" y1="2029.5" x2="1458" y2="2029.5" stroke="#231f20" stroke-width="2.6"/>
<line x1="1459" y1="2043" x2="1477" y2="2016" stroke="#231f20" stroke-width="2.6"/>
<rect x="1242" y="2045" width="259" height="23" fill="#424b78" stroke="#231f20" stroke-width="4"/>
<line x1="1357" y1="2066" x2="1377" y2="2049" stroke="#231f20" stroke-width="2.6"/>
<line x1="1377" y1="2057.5" x2="1408" y2="2057.5" stroke="#231f20" stroke-width="2.6"/>
<line x1="1417" y1="2066" x2="1435" y2="2049" stroke="#231f20" stroke-width="2.6"/>
<rect x="1242" y="2068" width="244" height="32" fill="#8a8a8d" stroke="#231f20" stroke-width="4"/>
<rect x="1278" y="2082.7" width="65" height="2.6" fill="#231f20"/><rect x="1372" y="2082.7" width="62" height="2.6" fill="#231f20"/>
<rect x="1242" y="2100" width="259" height="35" fill="#424b78" stroke="#231f20" stroke-width="4"/>
<line x1="1286" y1="2133" x2="1307" y2="2104" stroke="#231f20" stroke-width="2.6"/>
<line x1="1307" y1="2118.5" x2="1338" y2="2118.5" stroke="#231f20" stroke-width="2.6"/>
<line x1="1349" y1="2133" x2="1365" y2="2104" stroke="#231f20" stroke-width="2.6"/>
<line x1="1407" y1="2133" x2="1424" y2="2104" stroke="#231f20" stroke-width="2.6"/>
<line x1="1428" y1="2118.5" x2="1458" y2="2118.5" stroke="#231f20" stroke-width="2.6"/>
<line x1="1459" y1="2133" x2="1477" y2="2104" stroke="#231f20" stroke-width="2.6"/>
<rect x="1242" y="2135" width="259" height="29" fill="#424b78" stroke="#231f20" stroke-width="4"/>
<line x1="1357" y1="2162" x2="1377" y2="2139" stroke="#231f20" stroke-width="2.6"/>
<line x1="1377" y1="2150.5" x2="1408" y2="2150.5" stroke="#231f20" stroke-width="2.6"/>
<line x1="1417" y1="2162" x2="1435" y2="2139" stroke="#231f20" stroke-width="2.6"/>
<rect x="1242" y="2164" width="259" height="31" fill="#424b78" stroke="#231f20" stroke-width="4"/>
<line x1="1286" y1="2193" x2="1307" y2="2168" stroke="#231f20" stroke-width="2.6"/>
<line x1="1307" y1="2180.5" x2="1338" y2="2180.5" stroke="#231f20" stroke-width="2.6"/>
<line x1="1349" y1="2193" x2="1365" y2="2168" stroke="#231f20" stroke-width="2.6"/>
<line x1="1407" y1="2193" x2="1424" y2="2168" stroke="#231f20" stroke-width="2.6"/>
<line x1="1428" y1="2180.5" x2="1458" y2="2180.5" stroke="#231f20" stroke-width="2.6"/>
<line x1="1459" y1="2193" x2="1477" y2="2168" stroke="#231f20" stroke-width="2.6"/>
<rect x="1242" y="2195" width="244" height="31" fill="#8a8a8d" stroke="#231f20" stroke-width="4"/>
<rect x="1278" y="2209.2" width="65" height="2.6" fill="#231f20"/><rect x="1372" y="2209.2" width="62" height="2.6" fill="#231f20"/>
<rect x="1242" y="2226" width="244" height="32" fill="#8a8a8d" stroke="#231f20" stroke-width="4"/>
<rect x="1278" y="2240.7" width="65" height="2.6" fill="#231f20"/><rect x="1372" y="2240.7" width="62" height="2.6" fill="#231f20"/>
<rect x="1242" y="2258" width="243" height="24" fill="#fff200" stroke="#231f20" stroke-width="4"/>
<circle cx="1291" cy="2270.0" r="4.2" fill="#231f20"/>
<circle cx="1306" cy="2270.0" r="4.2" fill="#231f20"/>
<circle cx="1349" cy="2270.0" r="4.2" fill="#231f20"/>
<circle cx="1364" cy="2270.0" r="4.2" fill="#231f20"/>
<circle cx="1406" cy="2270.0" r="4.2" fill="#231f20"/>
<circle cx="1421" cy="2270.0" r="4.2" fill="#231f20"/>
<rect x="1242" y="2282" width="243" height="25" fill="#fff200" stroke="#231f20" stroke-width="4"/>
<circle cx="1291" cy="2294.5" r="4.2" fill="#231f20"/>
<circle cx="1306" cy="2294.5" r="4.2" fill="#231f20"/>
<circle cx="1349" cy="2294.5" r="4.2" fill="#231f20"/>
<circle cx="1364" cy="2294.5" r="4.2" fill="#231f20"/>
<circle cx="1406" cy="2294.5" r="4.2" fill="#231f20"/>
<circle cx="1421" cy="2294.5" r="4.2" fill="#231f20"/>
<rect x="1242" y="2307" width="244" height="23" fill="#8a8a8d" stroke="#231f20" stroke-width="4"/>
<rect x="1278" y="2317.2" width="65" height="2.6" fill="#231f20"/><rect x="1372" y="2317.2" width="62" height="2.6" fill="#231f20"/>
<rect x="1242" y="2330" width="244" height="23" fill="#8a8a8d" stroke="#231f20" stroke-width="4"/>
<rect x="1278" y="2340.2" width="65" height="2.6" fill="#231f20"/><rect x="1372" y="2340.2" width="62" height="2.6" fill="#231f20"/>
<rect x="1242" y="2353" width="259" height="55" fill="#424b78" stroke="#231f20" stroke-width="4"/>
<line x1="1286" y1="2406" x2="1307" y2="2357" stroke="#231f20" stroke-width="2.6"/>
<line x1="1307" y1="2381.5" x2="1338" y2="2381.5" stroke="#231f20" stroke-width="2.6"/>
<line x1="1349" y1="2406" x2="1365" y2="2357" stroke="#231f20" stroke-width="2.6"/>
<line x1="1407" y1="2406" x2="1424" y2="2357" stroke="#231f20" stroke-width="2.6"/>
<line x1="1428" y1="2381.5" x2="1458" y2="2381.5" stroke="#231f20" stroke-width="2.6"/>
<line x1="1459" y1="2406" x2="1477" y2="2357" stroke="#231f20" stroke-width="2.6"/>
<rect x="1242" y="2408" width="244" height="40" fill="#3b3636" stroke="#231f20" stroke-width="4"/>
<rect x="1270" y="2420.2" width="195" height="3.6" fill="#3e2b2b"/>
<rect x="1270" y="2426.2" width="195" height="3.6" fill="#3e2b2b"/>
<rect x="1270" y="2432.2" width="195" height="3.6" fill="#3e2b2b"/>
<line x1="1287" y1="2444" x2="1308" y2="2415" stroke="#3e2b2b" stroke-width="3.6"/>
<line x1="1314" y1="2444" x2="1335" y2="2415" stroke="#3e2b2b" stroke-width="3.6"/>
<line x1="1384" y1="2444" x2="1405" y2="2415" stroke="#3e2b2b" stroke-width="3.6"/>
<line x1="1409" y1="2444" x2="1430" y2="2415" stroke="#3e2b2b" stroke-width="3.6"/>
<rect x="1242" y="2448" width="244" height="31" fill="#8a8a8d" stroke="#231f20" stroke-width="4"/>
<rect x="1278" y="2462.2" width="65" height="2.6" fill="#231f20"/><rect x="1372" y="2462.2" width="62" height="2.6" fill="#231f20"/>
<rect x="1242" y="2479" width="244" height="33" fill="#8a8a8d" stroke="#231f20" stroke-width="4"/>
<rect x="1278" y="2494.2" width="65" height="2.6" fill="#231f20"/><rect x="1372" y="2494.2" width="62" height="2.6" fill="#231f20"/>
<rect x="1242" y="2512" width="331" height="31" fill="#5bcbec" stroke="#231f20" stroke-width="4"/>
<rect x="1284.5" y="2512" width="3" height="31" fill="#231f20"/>
<rect x="1378.5" y="2512" width="3" height="31" fill="#231f20"/>
<rect x="1461.5" y="2512" width="3" height="31" fill="#231f20"/>
<rect x="1242" y="2543" width="331" height="32" fill="#5bcbec" stroke="#231f20" stroke-width="4"/>
<rect x="1330.5" y="2543" width="3" height="32" fill="#231f20"/>
<rect x="1414.5" y="2543" width="3" height="32" fill="#231f20"/>
<rect x="1502.5" y="2543" width="3" height="32" fill="#231f20"/>
<rect x="1242" y="2575" width="244" height="30" fill="#8a8a8d" stroke="#231f20" stroke-width="4"/>
<rect x="1278" y="2588.7" width="65" height="2.6" fill="#231f20"/><rect x="1372" y="2588.7" width="62" height="2.6" fill="#231f20"/>
<rect x="1242" y="2605" width="244" height="34" fill="#3b3636" stroke="#231f20" stroke-width="4"/>
<rect x="1270" y="2614.2" width="195" height="3.6" fill="#3e2b2b"/>
<rect x="1270" y="2620.2" width="195" height="3.6" fill="#3e2b2b"/>
<rect x="1270" y="2626.2" width="195" height="3.6" fill="#3e2b2b"/>
<line x1="1287" y1="2635" x2="1308" y2="2612" stroke="#3e2b2b" stroke-width="3.6"/>
<line x1="1314" y1="2635" x2="1335" y2="2612" stroke="#3e2b2b" stroke-width="3.6"/>
<line x1="1384" y1="2635" x2="1405" y2="2612" stroke="#3e2b2b" stroke-width="3.6"/>
<line x1="1409" y1="2635" x2="1430" y2="2612" stroke="#3e2b2b" stroke-width="3.6"/>
<rect x="1242" y="2639" width="331" height="33" fill="#5bcbec" stroke="#231f20" stroke-width="4"/>
<rect x="1284.5" y="2639" width="3" height="33" fill="#231f20"/>
<rect x="1378.5" y="2639" width="3" height="33" fill="#231f20"/>
<rect x="1461.5" y="2639" width="3" height="33" fill="#231f20"/>
<rect x="1242" y="2672" width="331" height="34" fill="#5bcbec" stroke="#231f20" stroke-width="4"/>
<rect x="1330.5" y="2672" width="3" height="34" fill="#231f20"/>
<rect x="1414.5" y="2672" width="3" height="34" fill="#231f20"/>
<rect x="1502.5" y="2672" width="3" height="34" fill="#231f20"/>
<rect x="1242" y="2706" width="243" height="26" fill="#e5782f" stroke="#231f20" stroke-width="4"/>
<rect x="1283.5" y="2706" width="3" height="26" fill="#231f20"/>
<rect x="1295.5" y="2706" width="3" height="26" fill="#231f20"/>
<rect x="1307.5" y="2706" width="3" height="26" fill="#231f20"/>
<rect x="1360.5" y="2706" width="3" height="26" fill="#231f20"/>
<rect x="1373.5" y="2706" width="3" height="26" fill="#231f20"/>
<rect x="1384.5" y="2706" width="3" height="26" fill="#231f20"/>
<rect x="1436.5" y="2706" width="3" height="26" fill="#231f20"/>
<rect x="1448.5" y="2706" width="3" height="26" fill="#231f20"/>
<rect x="1460.5" y="2706" width="3" height="26" fill="#231f20"/>
<rect x="1242" y="2732" width="243" height="26" fill="#e5782f" stroke="#231f20" stroke-width="4"/>
<rect x="1321.5" y="2732" width="3" height="26" fill="#231f20"/>
<rect x="1333.5" y="2732" width="3" height="26" fill="#231f20"/>
<rect x="1345.5" y="2732" width="3" height="26" fill="#231f20"/>
<rect x="1400.5" y="2732" width="3" height="26" fill="#231f20"/>
<rect x="1413.5" y="2732" width="3" height="26" fill="#231f20"/>
<rect x="1425.5" y="2732" width="3" height="26" fill="#231f20"/>
<rect x="1242" y="2758" width="243" height="27" fill="#e5782f" stroke="#231f20" stroke-width="4"/>
<rect x="1283.5" y="2758" width="3" height="27" fill="#231f20"/>
<rect x="1295.5" y="2758" width="3" height="27" fill="#231f20"/>
<rect x="1307.5" y="2758" width="3" height="27" fill="#231f20"/>
<rect x="1360.5" y="2758" width="3" height="27" fill="#231f20"/>
<rect x="1373.5" y="2758" width="3" height="27" fill="#231f20"/>
<rect x="1384.5" y="2758" width="3" height="27" fill="#231f20"/>
<rect x="1436.5" y="2758" width="3" height="27" fill="#231f20"/>
<rect x="1448.5" y="2758" width="3" height="27" fill="#231f20"/>
<rect x="1460.5" y="2758" width="3" height="27" fill="#231f20"/>
<rect x="1242" y="2785" width="244" height="32" fill="#8a8a8d" stroke="#231f20" stroke-width="4"/>
<rect x="1278" y="2799.7" width="65" height="2.6" fill="#231f20"/><rect x="1372" y="2799.7" width="62" height="2.6" fill="#231f20"/>
<rect x="1242" y="2817" width="244" height="34" fill="#8a8a8d" stroke="#231f20" stroke-width="4"/>
<rect x="1278" y="2832.7" width="65" height="2.6" fill="#231f20"/><rect x="1372" y="2832.7" width="62" height="2.6" fill="#231f20"/>
<rect x="1242" y="2851" width="244" height="28" fill="#8a8a8d" stroke="#231f20" stroke-width="4"/>
<rect x="1278" y="2863.7" width="65" height="2.6" fill="#231f20"/><rect x="1372" y="2863.7" width="62" height="2.6" fill="#231f20"/>
<rect x="1242" y="2879" width="244" height="27" fill="#8a8a8d" stroke="#231f20" stroke-width="4"/>
<rect x="1278" y="2891.2" width="65" height="2.6" fill="#231f20"/><rect x="1372" y="2891.2" width="62" height="2.6" fill="#231f20"/>
<rect x="1242" y="2906" width="243" height="23" fill="#fff200" stroke="#231f20" stroke-width="4"/>
<circle cx="1291" cy="2917.5" r="4.2" fill="#231f20"/>
<circle cx="1306" cy="2917.5" r="4.2" fill="#231f20"/>
<circle cx="1349" cy="2917.5" r="4.2" fill="#231f20"/>
<circle cx="1364" cy="2917.5" r="4.2" fill="#231f20"/>
<circle cx="1406" cy="2917.5" r="4.2" fill="#231f20"/>
<circle cx="1421" cy="2917.5" r="4.2" fill="#231f20"/>
<rect x="1242" y="2929" width="243" height="24" fill="#fff200" stroke="#231f20" stroke-width="4"/>
<circle cx="1291" cy="2941.0" r="4.2" fill="#231f20"/>
<circle cx="1306" cy="2941.0" r="4.2" fill="#231f20"/>
<circle cx="1349" cy="2941.0" r="4.2" fill="#231f20"/>
<circle cx="1364" cy="2941.0" r="4.2" fill="#231f20"/>
<circle cx="1406" cy="2941.0" r="4.2" fill="#231f20"/>
<circle cx="1421" cy="2941.0" r="4.2" fill="#231f20"/>
<rect x="1242" y="2953" width="401" height="33" fill="#fdf9a0" stroke="#231f20" stroke-width="4"/>
<circle cx="1380" cy="2969.5" r="10.5" fill="#231f20"/>
<circle cx="1438" cy="2969.5" r="10.5" fill="#231f20"/>
<circle cx="1498" cy="2969.5" r="8.5" fill="none" stroke="#231f20" stroke-width="3"/>
<rect x="1242" y="2986" width="401" height="28" fill="#fdf9a0" stroke="#231f20" stroke-width="4"/>
<circle cx="1380" cy="3000.0" r="10.5" fill="#231f20"/>
<circle cx="1438" cy="3000.0" r="10.5" fill="#231f20"/>
<circle cx="1498" cy="3000.0" r="8.5" fill="none" stroke="#231f20" stroke-width="3"/>
<rect x="653" y="2354" width="197.5" height="216" fill="none" stroke="#e3282e" stroke-width="5"/>
<rect x="851" y="646.6" width="41.5" height="4.2" fill="#e3282e"/>
<rect x="851" y="874.3" width="41.5" height="4.2" fill="#e3282e"/>
<rect x="851" y="982.1" width="41.5" height="4.2" fill="#e3282e"/>
<rect x="851" y="1207.2" width="41.5" height="4.2" fill="#e3282e"/>
<rect x="851" y="1792.1000000000001" width="41.5" height="4.2" fill="#e3282e"/>
<rect x="851" y="2569.6" width="41.5" height="4.2" fill="#e3282e"/>
<rect x="851" y="2849.5" width="41.5" height="4.2" fill="#e3282e"/>
<rect x="33.5" y="32" width="3313.5" height="2983.5" fill="none" stroke="#382d2b" stroke-width="10.5"/>
<text transform="translate(423.80,100.00) scale(0.92,1)" x="0" y="0" font-family="Liberation Serif" font-size="61" text-anchor="middle" fill="#2b2526" textLength="495.22" lengthAdjust="spacing" stroke="#fdfdfd" stroke-width="0.5">Stratigraphic unit</text>
<text transform="translate(926.10,199.40) scale(0.92,1)" x="0" y="0" font-family="Liberation Serif" font-size="61" text-anchor="middle" fill="#2b2526" textLength="106.74" lengthAdjust="spacing" stroke="#fdfdfd" stroke-width="0.5">Age</text>
<text transform="translate(925.55,264.50) scale(0.92,1)" x="0" y="0" font-family="Liberation Serif" font-size="61" text-anchor="middle" fill="#2b2526" textLength="129.02" lengthAdjust="spacing" stroke="#fdfdfd" stroke-width="0.5">(Ma)</text>
<text transform="translate(1121.85,212.50) scale(0.92,1)" x="0" y="0" font-family="Liberation Serif" font-size="61" text-anchor="middle" fill="#2b2526" textLength="259.46" lengthAdjust="spacing" stroke="#fdfdfd" stroke-width="0.5">Thickness</text>
<text transform="translate(1121.45,278.90) scale(0.92,1)" x="0" y="0" font-family="Liberation Serif" font-size="61" text-anchor="middle" fill="#2b2526" textLength="91.41" lengthAdjust="spacing" stroke="#fdfdfd" stroke-width="0.5">(m)</text>
<text transform="translate(1460.90,233.00) scale(0.92,1)" x="0" y="0" font-family="Liberation Serif" font-size="61" text-anchor="middle" fill="#2b2526" textLength="251.30" lengthAdjust="spacing" stroke="#fdfdfd" stroke-width="0.5">Lithology</text>
<text transform="translate(2360.10,98.30) scale(0.92,1)" x="0" y="0" font-family="Liberation Serif" font-size="61" text-anchor="middle" fill="#2b2526" textLength="247.39" lengthAdjust="spacing" stroke="#fdfdfd" stroke-width="0.5">Sequence</text>
<text transform="translate(1857.00,189.00) scale(0.92,1)" x="0" y="0" font-family="Liberation Serif" font-size="61" text-anchor="middle" fill="#2b2526" textLength="328.26" lengthAdjust="spacing" stroke="#fdfdfd" stroke-width="0.5">Depositional</text>
<text transform="translate(1856.55,255.20) scale(0.92,1)" x="0" y="0" font-family="Liberation Serif" font-size="61" text-anchor="middle" fill="#2b2526" textLength="323.59" lengthAdjust="spacing" stroke="#fdfdfd" stroke-width="0.5">environment</text>
<text transform="translate(2810.95,214.60) scale(0.92,1)" x="0" y="0" font-family="Liberation Serif" font-size="61" text-anchor="middle" fill="#2b2526" textLength="219.02" lengthAdjust="spacing" stroke="#fdfdfd" stroke-width="0.5">Tectonic</text>
<text transform="translate(2810.00,278.90) scale(0.92,1)" x="0" y="0" font-family="Liberation Serif" font-size="61" text-anchor="middle" fill="#2b2526" textLength="243.04" lengthAdjust="spacing" stroke="#fdfdfd" stroke-width="0.5">evolution</text>
<text transform="translate(3046.15,178.80) scale(0.92,1)" x="0" y="0" font-family="Liberation Serif" font-size="61" text-anchor="middle" fill="#2b2526" textLength="133.15" lengthAdjust="spacing" stroke="#fdfdfd" stroke-width="0.5">Main</text>
<text transform="translate(3047.55,243.00) scale(0.92,1)" x="0" y="0" font-family="Liberation Serif" font-size="61" text-anchor="middle" fill="#2b2526" textLength="168.15" lengthAdjust="spacing" stroke="#fdfdfd" stroke-width="0.5">source</text>
<text transform="translate(3047.30,308.50) scale(0.92,1)" x="0" y="0" font-family="Liberation Serif" font-size="61" text-anchor="middle" fill="#2b2526" textLength="139.13" lengthAdjust="spacing" stroke="#fdfdfd" stroke-width="0.5">rocks</text>
<text transform="translate(3254.70,206.40) scale(0.92,1)" x="0" y="0" font-family="Liberation Serif" font-size="61" text-anchor="middle" fill="#2b2526" textLength="111.30" lengthAdjust="spacing" stroke="#fdfdfd" stroke-width="0.5">Seal</text>
<text transform="translate(3255.75,270.70) scale(0.92,1)" x="0" y="0" font-family="Liberation Serif" font-size="61" text-anchor="middle" fill="#2b2526" textLength="139.02" lengthAdjust="spacing" stroke="#fdfdfd" stroke-width="0.5">rocks</text>
<text transform="translate(113.30,279.05) rotate(-90) scale(0.92,1)" x="0" y="0" font-family="Liberation Serif" font-size="61" text-anchor="middle" fill="#2b2526" textLength="205.54" lengthAdjust="spacing" stroke="#fdfdfd" stroke-width="0.5">System</text>
<text transform="translate(268.60,276.10) rotate(-90) scale(0.92,1)" x="0" y="0" font-family="Liberation Serif" font-size="61" text-anchor="middle" fill="#2b2526" textLength="172.39" lengthAdjust="spacing" stroke="#fdfdfd" stroke-width="0.5">Series</text>
<text transform="translate(415.80,281.90) rotate(-90) scale(0.92,1)" x="0" y="0" font-family="Liberation Serif" font-size="61" text-anchor="middle" fill="#2b2526" textLength="292.83" lengthAdjust="spacing" stroke="#fdfdfd" stroke-width="0.5">Formation</text>
<text transform="translate(577.80,282.35) rotate(-90) scale(0.92,1)" x="0" y="0" font-family="Liberation Serif" font-size="61" text-anchor="middle" fill="#2b2526" textLength="213.59" lengthAdjust="spacing" stroke="#fdfdfd" stroke-width="0.5">Member</text>
<text transform="translate(769.20,282.30) rotate(-90) scale(0.92,1)" x="0" y="0" font-family="Liberation Serif" font-size="61" text-anchor="middle" fill="#2b2526" textLength="305.00" lengthAdjust="spacing" stroke="#fdfdfd" stroke-width="0.5">Submember</text>
<text transform="translate(2183.40,278.45) rotate(-90) scale(0.92,1)" x="0" y="0" font-family="Liberation Serif" font-size="61" text-anchor="middle" fill="#2b2526" textLength="232.72" lengthAdjust="spacing" stroke="#fdfdfd" stroke-width="0.5">1st-order</text>
<text transform="translate(2400.60,277.45) rotate(-90) scale(0.92,1)" x="0" y="0" font-family="Liberation Serif" font-size="61" text-anchor="middle" fill="#2b2526" textLength="230.54" lengthAdjust="spacing" stroke="#fdfdfd" stroke-width="0.5">2nd-order</text>
<text transform="translate(2603.30,279.65) rotate(-90) scale(0.92,1)" x="0" y="0" font-family="Liberation Serif" font-size="61" text-anchor="middle" fill="#2b2526" textLength="219.89" lengthAdjust="spacing" stroke="#fdfdfd" stroke-width="0.5">3rd-order</text>
<text transform="translate(117.30,638.10) rotate(-90) scale(0.92,1)" x="0" y="0" font-family="Liberation Serif" font-size="61" text-anchor="middle" fill="#2b2526" textLength="252.17" lengthAdjust="spacing" stroke="#fdfdfd" stroke-width="0.5">Neogene</text>
<text transform="translate(119.60,2037.80) rotate(-90) scale(0.92,1)" x="0" y="0" font-family="Liberation Serif" font-size="61" text-anchor="middle" fill="#2b2526" textLength="290.00" lengthAdjust="spacing" stroke="#fdfdfd" stroke-width="0.5">Paleogene</text>
<text transform="translate(264.50,540.35) rotate(-90) scale(0.92,1)" x="0" y="0" font-family="Liberation Serif" font-size="61" text-anchor="middle" fill="#2b2526" textLength="228.15" lengthAdjust="spacing" stroke="#fdfdfd" stroke-width="0.5">Pliocene</text>
<text transform="translate(257.70,764.85) rotate(-90) scale(0.92,1)" x="0" y="0" font-family="Liberation Serif" font-size="61" text-anchor="middle" fill="#2b2526" textLength="228.15" lengthAdjust="spacing" stroke="#fdfdfd" stroke-width="0.5">Miocene</text>
<text transform="translate(260.80,1338.15) rotate(-90) scale(0.92,1)" x="0" y="0" font-family="Liberation Serif" font-size="61" text-anchor="middle" fill="#2b2526" textLength="290.33" lengthAdjust="spacing" stroke="#fdfdfd" stroke-width="0.5">Oligocene</text>
<text transform="translate(265.60,2416.20) rotate(-90) scale(0.92,1)" x="0" y="0" font-family="Liberation Serif" font-size="61" text-anchor="middle" fill="#2b2526" textLength="210.43" lengthAdjust="spacing" stroke="#fdfdfd" stroke-width="0.5">Eocene</text>
<text transform="translate(387.00,2006.70) rotate(-90) scale(0.92,1)" x="0" y="0" font-family="Liberation Serif" font-size="61" text-anchor="middle" fill="#2b2526" textLength="245.65" lengthAdjust="spacing" stroke="#fdfdfd" stroke-width="0.5">Shahejie</text>
<text transform="translate(452.70,2006.20) rotate(-90) scale(0.92,1)" x="0" y="0" font-family="Liberation Serif" font-size="61" text-anchor="middle" fill="#2b2526" textLength="117.83" lengthAdjust="spacing" stroke="#fdfdfd" stroke-width="0.5">(E<tspan font-style="italic">s</tspan>)</text>
<text transform="translate(2814.20,659.60) rotate(-90) scale(0.92,1)" x="0" y="0" font-family="Liberation Serif" font-size="61" text-anchor="middle" fill="#2b2526" textLength="398.26" lengthAdjust="spacing" stroke="#fdfdfd" stroke-width="0.5">Post-rift stage</text>
<text transform="translate(2812.95,1873.20) rotate(-90) scale(0.92,1)" x="0" y="0" font-family="Liberation Serif" font-size="61" text-anchor="middle" fill="#2b2526" textLength="382.83" lengthAdjust="spacing" stroke="#fdfdfd" stroke-width="0.5">Syn-rift stage</text>
<text transform="translate(587.25,529.50) scale(0.92,1)" x="0" y="0" font-family="Liberation Serif" font-size="61" text-anchor="middle" fill="#2b2526" textLength="384.89" lengthAdjust="spacing" stroke="#fdfdfd" stroke-width="0.5">Minghuazhen</text>
<text transform="translate(586.95,595.00) scale(0.92,1)" x="0" y="0" font-family="Liberation Serif" font-size="61" text-anchor="middle" fill="#2b2526" textLength="146.20" lengthAdjust="spacing" stroke="#fdfdfd" stroke-width="0.5">(N<tspan font-style="italic">m</tspan>)</text>
<text transform="translate(580.50,751.40) scale(0.92,1)" x="0" y="0" font-family="Liberation Serif" font-size="61" text-anchor="middle" fill="#2b2526" textLength="237.17" lengthAdjust="spacing" stroke="#fdfdfd" stroke-width="0.5">Guantao</text>
<text transform="translate(581.35,816.10) scale(0.92,1)" x="0" y="0" font-family="Liberation Serif" font-size="61" text-anchor="middle" fill="#2b2526" textLength="134.02" lengthAdjust="spacing" stroke="#fdfdfd" stroke-width="0.5">(N<tspan font-style="italic">g</tspan>)</text>
<text transform="translate(576.15,1022.80) scale(0.92,1)" x="0" y="0" font-family="Liberation Serif" font-size="61" text-anchor="middle" fill="#2b2526" textLength="280.76" lengthAdjust="spacing" stroke="#fdfdfd" stroke-width="0.5">Dongying</text>
<text transform="translate(576.85,1087.20) scale(0.92,1)" x="0" y="0" font-family="Liberation Serif" font-size="61" text-anchor="middle" fill="#2b2526" textLength="126.20" lengthAdjust="spacing" stroke="#fdfdfd" stroke-width="0.5">(E<tspan font-style="italic">d</tspan>)</text>
<text transform="translate(668.15,1403.70) scale(0.92,1)" x="0" y="0" font-family="Liberation Serif" font-size="61" text-anchor="middle" fill="#2b2526" textLength="131.41" lengthAdjust="spacing" stroke="#fdfdfd" stroke-width="0.5">First</text>
<text transform="translate(668.95,1468.70) scale(0.92,1)" x="0" y="0" font-family="Liberation Serif" font-size="61" text-anchor="middle" fill="#2b2526" textLength="154.24" lengthAdjust="spacing" stroke="#fdfdfd" stroke-width="0.5">(E<tspan font-style="italic">s</tspan>1)</text>
<text transform="translate(664.15,1783.60) scale(0.92,1)" x="0" y="0" font-family="Liberation Serif" font-size="61" text-anchor="middle" fill="#2b2526" textLength="208.37" lengthAdjust="spacing" stroke="#fdfdfd" stroke-width="0.5">Second</text>
<text transform="translate(664.75,1847.60) scale(0.92,1)" x="0" y="0" font-family="Liberation Serif" font-size="61" text-anchor="middle" fill="#2b2526" textLength="154.24" lengthAdjust="spacing" stroke="#fdfdfd" stroke-width="0.5">(E<tspan font-style="italic">s</tspan>2)</text>
<text transform="translate(557.85,2271.90) scale(0.92,1)" x="0" y="0" font-family="Liberation Serif" font-size="61" text-anchor="middle" fill="#2b2526" textLength="155.11" lengthAdjust="spacing" stroke="#fdfdfd" stroke-width="0.5">Thrid</text>
<text transform="translate(557.80,2336.50) scale(0.92,1)" x="0" y="0" font-family="Liberation Serif" font-size="61" text-anchor="middle" fill="#2b2526" textLength="152.83" lengthAdjust="spacing" stroke="#fdfdfd" stroke-width="0.5">(E<tspan font-style="italic">s</tspan>3)</text>
<text transform="translate(561.70,2699.50) scale(0.92,1)" x="0" y="0" font-family="Liberation Serif" font-size="61" text-anchor="middle" fill="#2b2526" textLength="185.43" lengthAdjust="spacing" stroke="#fdfdfd" stroke-width="0.5">Fourth</text>
<text transform="translate(563.20,2763.70) scale(0.92,1)" x="0" y="0" font-family="Liberation Serif" font-size="61" text-anchor="middle" fill="#2b2526" textLength="153.48" lengthAdjust="spacing" stroke="#fdfdfd" stroke-width="0.5">(E<tspan font-style="italic">s</tspan>4)</text>
<text transform="translate(581.25,2918.80) scale(0.92,1)" x="0" y="0" font-family="Liberation Serif" font-size="61" text-anchor="middle" fill="#2b2526" textLength="274.46" lengthAdjust="spacing" stroke="#fdfdfd" stroke-width="0.5">Kongdian</text>
<text transform="translate(581.55,2984.80) scale(0.92,1)" x="0" y="0" font-family="Liberation Serif" font-size="61" text-anchor="middle" fill="#2b2526" textLength="122.93" lengthAdjust="spacing" stroke="#fdfdfd" stroke-width="0.5">(E<tspan font-style="italic">k</tspan>)</text>
<text transform="translate(748.35,2072.70) scale(0.92,1)" x="0" y="0" font-family="Liberation Serif" font-size="61" text-anchor="middle" fill="#2b2526" textLength="131.63" lengthAdjust="spacing" stroke="#fdfdfd" stroke-width="0.5">First</text>
<text transform="translate(755.05,2264.70) scale(0.92,1)" x="0" y="0" font-family="Liberation Serif" font-size="61" text-anchor="middle" fill="#2b2526" textLength="206.41" lengthAdjust="spacing" stroke="#fdfdfd" stroke-width="0.5">Second</text>
<text transform="translate(752.40,2487.90) scale(0.92,1)" x="0" y="0" font-family="Liberation Serif" font-size="61" text-anchor="middle" fill="#2b2526" textLength="156.74" lengthAdjust="spacing" stroke="#fdfdfd" stroke-width="0.5">Thrid</text>
<text transform="translate(754.05,2672.50) scale(0.92,1)" x="0" y="0" font-family="Liberation Serif" font-size="61" text-anchor="middle" fill="#2b2526" textLength="171.41" lengthAdjust="spacing" stroke="#fdfdfd" stroke-width="0.5">Upper</text>
<text transform="translate(753.00,2807.70) scale(0.92,1)" x="0" y="0" font-family="Liberation Serif" font-size="61" text-anchor="middle" fill="#2b2526" textLength="183.04" lengthAdjust="spacing" stroke="#fdfdfd" stroke-width="0.5">Lower</text>
<text transform="translate(933.50,670.80) scale(0.92,1)" x="0" y="0" font-family="Liberation Serif" font-size="61" text-anchor="middle" fill="#2b2526" textLength="77.17" lengthAdjust="spacing" stroke="#fdfdfd" stroke-width="0.5">5.1</text>
<text transform="translate(937.95,899.20) scale(0.92,1)" x="0" y="0" font-family="Liberation Serif" font-size="61" text-anchor="middle" fill="#2b2526" textLength="110.76" lengthAdjust="spacing" stroke="#fdfdfd" stroke-width="0.5">24.6</text>
<text transform="translate(941.65,1003.20) scale(0.92,1)" x="0" y="0" font-family="Liberation Serif" font-size="61" text-anchor="middle" fill="#2b2526" textLength="109.46" lengthAdjust="spacing" stroke="#fdfdfd" stroke-width="0.5">28.1</text>
<text transform="translate(941.25,1227.90) scale(0.92,1)" x="0" y="0" font-family="Liberation Serif" font-size="61" text-anchor="middle" fill="#2b2526" textLength="110.11" lengthAdjust="spacing" stroke="#fdfdfd" stroke-width="0.5">32.8</text>
<text transform="translate(942.20,1812.60) scale(0.92,1)" x="0" y="0" font-family="Liberation Serif" font-size="61" text-anchor="middle" fill="#2b2526" textLength="113.04" lengthAdjust="spacing" stroke="#fdfdfd" stroke-width="0.5">37.0</text>
<text transform="translate(944.30,2590.00) scale(0.92,1)" x="0" y="0" font-family="Liberation Serif" font-size="61" text-anchor="middle" fill="#2b2526" textLength="110.22" lengthAdjust="spacing" stroke="#fdfdfd" stroke-width="0.5">42.0</text>
<text transform="translate(946.50,2874.00) scale(0.92,1)" x="0" y="0" font-family="Liberation Serif" font-size="61" text-anchor="middle" fill="#2b2526" textLength="109.78" lengthAdjust="spacing" stroke="#fdfdfd" stroke-width="0.5">50.5</text>
<text transform="translate(1119.00,561.00) scale(0.92,1)" x="0" y="0" font-family="Liberation Serif" font-size="61" text-anchor="middle" fill="#2b2526" textLength="223.91" lengthAdjust="spacing" stroke="#fdfdfd" stroke-width="0.5">300–900</text>
<text transform="translate(1110.00,786.00) scale(0.92,1)" x="0" y="0" font-family="Liberation Serif" font-size="61" text-anchor="middle" fill="#2b2526" textLength="223.91" lengthAdjust="spacing" stroke="#fdfdfd" stroke-width="0.5">100–600</text>
<text transform="translate(1110.30,1065.70) scale(0.92,1)" x="0" y="0" font-family="Liberation Serif" font-size="61" text-anchor="middle" fill="#2b2526" textLength="252.39" lengthAdjust="spacing" stroke="#fdfdfd" stroke-width="0.5">200–1100</text>
<text transform="translate(1120.00,1357.80) scale(0.92,1)" x="0" y="0" font-family="Liberation Serif" font-size="61" text-anchor="middle" fill="#2b2526" textLength="232.61" lengthAdjust="spacing" stroke="#fdfdfd" stroke-width="0.5">200–300</text>
<text transform="translate(1113.65,1564.50) scale(0.92,1)" x="0" y="0" font-family="Liberation Serif" font-size="61" text-anchor="middle" fill="#2b2526" textLength="222.07" lengthAdjust="spacing" stroke="#fdfdfd" stroke-width="0.5">100–200</text>
<text transform="translate(1113.65,1737.60) scale(0.92,1)" x="0" y="0" font-family="Liberation Serif" font-size="61" text-anchor="middle" fill="#2b2526" textLength="190.54" lengthAdjust="spacing" stroke="#fdfdfd" stroke-width="0.5">60–100</text>
<text transform="translate(1120.75,1898.00) scale(0.92,1)" x="0" y="0" font-family="Liberation Serif" font-size="61" text-anchor="middle" fill="#2b2526" textLength="190.11" lengthAdjust="spacing" stroke="#fdfdfd" stroke-width="0.5">80–120</text>
<text transform="translate(1110.70,2072.50) scale(0.92,1)" x="0" y="0" font-family="Liberation Serif" font-size="61" text-anchor="middle" fill="#2b2526" textLength="190.65" lengthAdjust="spacing" stroke="#fdfdfd" stroke-width="0.5">60–150</text>
<text transform="translate(1114.40,2204.70) scale(0.92,1)" x="0" y="0" font-family="Liberation Serif" font-size="61" text-anchor="middle" fill="#2b2526" textLength="190.43" lengthAdjust="spacing" stroke="#fdfdfd" stroke-width="0.5">50–100</text>
<text transform="translate(1116.50,2311.60) scale(0.92,1)" x="0" y="0" font-family="Liberation Serif" font-size="61" text-anchor="middle" fill="#2b2526" textLength="221.30" lengthAdjust="spacing" stroke="#fdfdfd" stroke-width="0.5">100–300</text>
<text transform="translate(1119.65,2491.50) scale(0.92,1)" x="0" y="0" font-family="Liberation Serif" font-size="61" text-anchor="middle" fill="#2b2526" textLength="222.07" lengthAdjust="spacing" stroke="#fdfdfd" stroke-width="0.5">300–500</text>
<text transform="translate(1111.20,2677.90) scale(0.92,1)" x="0" y="0" font-family="Liberation Serif" font-size="61" text-anchor="middle" fill="#2b2526" textLength="220.00" lengthAdjust="spacing" stroke="#fdfdfd" stroke-width="0.5">100–300</text>
<text transform="translate(1118.80,2820.20) scale(0.92,1)" x="0" y="0" font-family="Liberation Serif" font-size="61" text-anchor="middle" fill="#2b2526" textLength="192.17" lengthAdjust="spacing" stroke="#fdfdfd" stroke-width="0.5">30–100</text>
<text transform="translate(1108.80,2960.00) scale(0.92,1)" x="0" y="0" font-family="Liberation Serif" font-size="61" text-anchor="middle" fill="#2b2526" textLength="220.00" lengthAdjust="spacing" stroke="#fdfdfd" stroke-width="0.5">100–350</text>
<text transform="translate(1858.40,671.20) scale(0.92,1)" x="0" y="0" font-family="Liberation Serif" font-size="61" text-anchor="middle" fill="#2b2526" textLength="352.61" lengthAdjust="spacing" stroke="#fdfdfd" stroke-width="0.5">Alluvial plain</text>
<text transform="translate(1859.65,1040.60) scale(0.92,1)" x="0" y="0" font-family="Liberation Serif" font-size="61" text-anchor="middle" fill="#2b2526" textLength="313.80" lengthAdjust="spacing" stroke="#fdfdfd" stroke-width="0.5">Delta&amp;Lack</text>
<text transform="translate(1860.50,1092.60) scale(0.92,1)" x="0" y="0" font-family="Liberation Serif" font-size="61" text-anchor="middle" fill="#2b2526" textLength="150.65" lengthAdjust="spacing" stroke="#fdfdfd" stroke-width="0.5">facies</text>
<text transform="translate(1855.60,1394.50) scale(0.92,1)" x="0" y="0" font-family="Liberation Serif" font-size="61" text-anchor="middle" fill="#2b2526" textLength="355.87" lengthAdjust="spacing" stroke="#fdfdfd" stroke-width="0.5">Deep lake and</text>
<text transform="translate(1855.65,1446.30) scale(0.92,1)" x="0" y="0" font-family="Liberation Serif" font-size="61" text-anchor="middle" fill="#2b2526" textLength="276.63" lengthAdjust="spacing" stroke="#fdfdfd" stroke-width="0.5">salty water</text>
<text transform="translate(1856.15,1499.80) scale(0.92,1)" x="0" y="0" font-family="Liberation Serif" font-size="61" text-anchor="middle" fill="#2b2526" textLength="149.24" lengthAdjust="spacing" stroke="#fdfdfd" stroke-width="0.5">facies</text>
<text transform="translate(1857.45,1755.00) scale(0.92,1)" x="0" y="0" font-family="Liberation Serif" font-size="61" text-anchor="middle" fill="#2b2526" textLength="368.37" lengthAdjust="spacing" stroke="#fdfdfd" stroke-width="0.5">Fluvial&amp;Delta</text>
<text transform="translate(1858.65,1808.90) scale(0.92,1)" x="0" y="0" font-family="Liberation Serif" font-size="61" text-anchor="middle" fill="#2b2526" textLength="149.24" lengthAdjust="spacing" stroke="#fdfdfd" stroke-width="0.5">facies</text>
<text transform="translate(1859.00,2004.70) scale(0.92,1)" x="0" y="0" font-family="Liberation Serif" font-size="61" text-anchor="middle" fill="#2b2526" textLength="312.61" lengthAdjust="spacing" stroke="#fdfdfd" stroke-width="0.5">Delta&amp;Lack</text>
<text transform="translate(1860.05,2058.10) scale(0.92,1)" x="0" y="0" font-family="Liberation Serif" font-size="61" text-anchor="middle" fill="#2b2526" textLength="149.46" lengthAdjust="spacing" stroke="#fdfdfd" stroke-width="0.5">facies</text>
<text transform="translate(1862.90,2240.30) scale(0.92,1)" x="0" y="0" font-family="Liberation Serif" font-size="61" text-anchor="middle" fill="#2b2526" textLength="252.61" lengthAdjust="spacing" stroke="#fdfdfd" stroke-width="0.5">Deep lake</text>
<text transform="translate(1862.80,2293.30) scale(0.92,1)" x="0" y="0" font-family="Liberation Serif" font-size="61" text-anchor="middle" fill="#2b2526" textLength="150.22" lengthAdjust="spacing" stroke="#fdfdfd" stroke-width="0.5">facies</text>
<text transform="translate(1861.55,2432.00) scale(0.92,1)" x="0" y="0" font-family="Liberation Serif" font-size="61" text-anchor="middle" fill="#2b2526" textLength="353.80" lengthAdjust="spacing" stroke="#fdfdfd" stroke-width="0.5">Deep lake and</text>
<text transform="translate(1863.05,2486.00) scale(0.92,1)" x="0" y="0" font-family="Liberation Serif" font-size="61" text-anchor="middle" fill="#2b2526" textLength="368.37" lengthAdjust="spacing" stroke="#fdfdfd" stroke-width="0.5">brackish water</text>
<text transform="translate(1862.25,2538.40) scale(0.92,1)" x="0" y="0" font-family="Liberation Serif" font-size="61" text-anchor="middle" fill="#2b2526" textLength="149.89" lengthAdjust="spacing" stroke="#fdfdfd" stroke-width="0.5">facies</text>
<text transform="translate(1860.00,2624.00) scale(0.92,1)" x="0" y="0" font-family="Liberation Serif" font-size="61" text-anchor="middle" fill="#2b2526" textLength="252.17" lengthAdjust="spacing" stroke="#fdfdfd" stroke-width="0.5">Deep lake</text>
<text transform="translate(1865.20,2677.50) scale(0.92,1)" x="0" y="0" font-family="Liberation Serif" font-size="61" text-anchor="middle" fill="#2b2526" textLength="223.26" lengthAdjust="spacing" stroke="#fdfdfd" stroke-width="0.5">and salty</text>
<text transform="translate(1861.00,2729.50) scale(0.92,1)" x="0" y="0" font-family="Liberation Serif" font-size="61" text-anchor="middle" fill="#2b2526" textLength="301.30" lengthAdjust="spacing" stroke="#fdfdfd" stroke-width="0.5">water facies</text>
<text transform="translate(1858.05,2793.30) scale(0.92,1)" x="0" y="0" font-family="Liberation Serif" font-size="61" text-anchor="middle" fill="#2b2526" textLength="399.24" lengthAdjust="spacing" stroke="#fdfdfd" stroke-width="0.5">Fluvial&amp;Shallow</text>
<text transform="translate(1854.20,2846.20) scale(0.92,1)" x="0" y="0" font-family="Liberation Serif" font-size="61" text-anchor="middle" fill="#2b2526" textLength="245.22" lengthAdjust="spacing" stroke="#fdfdfd" stroke-width="0.5">lake facies</text>
<text transform="translate(1855.90,2913.20) scale(0.92,1)" x="0" y="0" font-family="Liberation Serif" font-size="61" text-anchor="middle" fill="#2b2526" textLength="396.96" lengthAdjust="spacing" stroke="#fdfdfd" stroke-width="0.5">Alluvial plain&amp;</text>
<text transform="translate(1856.95,2962.40) scale(0.92,1)" x="0" y="0" font-family="Liberation Serif" font-size="61" text-anchor="middle" fill="#2b2526" textLength="261.63" lengthAdjust="spacing" stroke="#fdfdfd" stroke-width="0.5">Restricted</text>
<text transform="translate(1857.45,3010.20) scale(0.92,1)" x="0" y="0" font-family="Liberation Serif" font-size="61" text-anchor="middle" fill="#2b2526" textLength="267.28" lengthAdjust="spacing" stroke="#fdfdfd" stroke-width="0.5">lake facies</text>
<text transform="translate(2585.00,558.70) scale(0.92,1)" x="0" y="0" font-family="Liberation Serif" font-size="58" text-anchor="middle" fill="#2b2526" textLength="91.74" lengthAdjust="spacing" stroke="#fef200" stroke-width="0.5">Nm</text>
<text transform="translate(2581.80,785.00) scale(0.92,1)" x="0" y="0" font-family="Liberation Serif" font-size="58" text-anchor="middle" fill="#2b2526" textLength="75.65" lengthAdjust="spacing" stroke="#efbc0c" stroke-width="0.5">Ng</text>
<text transform="translate(354.75,3297.90) scale(1.0,1)" x="0" y="0" font-family="Liberation Serif" font-size="74" text-anchor="middle" fill="#2b2526" textLength="368.50" lengthAdjust="spacing">Sandstones</text>
<text transform="translate(988.40,3297.40) scale(1.0,1)" x="0" y="0" font-family="Liberation Serif" font-size="74" text-anchor="middle" fill="#2b2526" textLength="324.80" lengthAdjust="spacing">Siltstones</text>
<text transform="translate(1613.45,3297.20) scale(1.0,1)" x="0" y="0" font-family="Liberation Serif" font-size="74" text-anchor="middle" fill="#2b2526" textLength="355.10" lengthAdjust="spacing">Mudstones</text>
<text transform="translate(2236.00,3297.20) scale(1.0,1)" x="0" y="0" font-family="Liberation Serif" font-size="74" text-anchor="middle" fill="#2b2526" textLength="214.00" lengthAdjust="spacing">Shales</text>
<text transform="translate(2882.55,3297.20) scale(1.0,1)" x="0" y="0" font-family="Liberation Serif" font-size="74" text-anchor="middle" fill="#2b2526" textLength="691.30" lengthAdjust="spacing">Dolomitic mudstones</text>
<text transform="translate(366.10,3572.10) scale(1.0,1)" x="0" y="0" font-family="Liberation Serif" font-size="74" text-anchor="middle" fill="#2b2526" textLength="373.80" lengthAdjust="spacing">Limestones</text>
<text transform="translate(991.85,3575.00) scale(1.0,1)" x="0" y="0" font-family="Liberation Serif" font-size="74" text-anchor="middle" fill="#2b2526" textLength="348.30" lengthAdjust="spacing">Evaporites</text>
<text transform="translate(1616.90,3576.20) scale(1.0,1)" x="0" y="0" font-family="Liberation Serif" font-size="74" text-anchor="middle" fill="#2b2526" textLength="338.20" lengthAdjust="spacing">Dolomites</text>
<text transform="translate(2239.50,3575.00) scale(1.0,1)" x="0" y="0" font-family="Liberation Serif" font-size="74" text-anchor="middle" fill="#2b2526" textLength="521.00" lengthAdjust="spacing">Conglomemates</text>
<text transform="translate(2870.10,3575.50) scale(1.0,1)" x="0" y="0" font-family="Liberation Serif" font-size="74" text-anchor="middle" fill="#2b2526" textLength="596.80" lengthAdjust="spacing">Pebbly sandstones</text>
<text x="2568" y="1118" font-family="Liberation Serif" font-size="59" fill="#2b2526" text-anchor="middle" textLength="70" lengthAdjust="spacingAndGlyphs">SQ</text>
<text x="2611" y="1130" font-family="Liberation Serif" font-size="27" fill="#2b2526" text-anchor="middle" textLength="12" lengthAdjust="spacingAndGlyphs">4</text>
<text x="2629" y="1086" font-family="Liberation Serif" font-size="28" fill="#2b2526" text-anchor="middle" textLength="12" lengthAdjust="spacingAndGlyphs">2</text>
<text x="2568" y="1578" font-family="Liberation Serif" font-size="59" fill="#2b2526" text-anchor="middle" textLength="70" lengthAdjust="spacingAndGlyphs">SQ</text>
<text x="2611" y="1590" font-family="Liberation Serif" font-size="27" fill="#2b2526" text-anchor="middle" textLength="12" lengthAdjust="spacingAndGlyphs">4</text>
<text x="2629" y="1546" font-family="Liberation Serif" font-size="28" fill="#2b2526" text-anchor="middle" textLength="12" lengthAdjust="spacingAndGlyphs">1</text>
<text x="2568" y="1991" font-family="Liberation Serif" font-size="59" fill="#2b2526" text-anchor="middle" textLength="70" lengthAdjust="spacingAndGlyphs">SQ</text>
<text x="2611" y="2003" font-family="Liberation Serif" font-size="27" fill="#2b2526" text-anchor="middle" textLength="12" lengthAdjust="spacingAndGlyphs">3</text>
<text x="2629" y="1959" font-family="Liberation Serif" font-size="28" fill="#2b2526" text-anchor="middle" textLength="12" lengthAdjust="spacingAndGlyphs">3</text>
<text x="2568" y="2299" font-family="Liberation Serif" font-size="59" fill="#2b2526" text-anchor="middle" textLength="70" lengthAdjust="spacingAndGlyphs">SQ</text>
<text x="2611" y="2311" font-family="Liberation Serif" font-size="27" fill="#2b2526" text-anchor="middle" textLength="12" lengthAdjust="spacingAndGlyphs">3</text>
<text x="2629" y="2267" font-family="Liberation Serif" font-size="28" fill="#2b2526" text-anchor="middle" textLength="12" lengthAdjust="spacingAndGlyphs">2</text>
<text x="2568" y="2523" font-family="Liberation Serif" font-size="59" fill="#2b2526" text-anchor="middle" textLength="70" lengthAdjust="spacingAndGlyphs">SQ</text>
<text x="2611" y="2535" font-family="Liberation Serif" font-size="27" fill="#2b2526" text-anchor="middle" textLength="12" lengthAdjust="spacingAndGlyphs">3</text>
<text x="2629" y="2491" font-family="Liberation Serif" font-size="28" fill="#2b2526" text-anchor="middle" textLength="12" lengthAdjust="spacingAndGlyphs">1</text>
<text x="2568" y="2669" font-family="Liberation Serif" font-size="59" fill="#2b2526" text-anchor="middle" textLength="70" lengthAdjust="spacingAndGlyphs">SQ</text>
<text x="2611" y="2681" font-family="Liberation Serif" font-size="27" fill="#2b2526" text-anchor="middle" textLength="12" lengthAdjust="spacingAndGlyphs">2</text>
<text x="2629" y="2637" font-family="Liberation Serif" font-size="28" fill="#2b2526" text-anchor="middle" textLength="12" lengthAdjust="spacingAndGlyphs">2</text>
<text x="2568" y="2817" font-family="Liberation Serif" font-size="59" fill="#2b2526" text-anchor="middle" textLength="70" lengthAdjust="spacingAndGlyphs">SQ</text>
<text x="2611" y="2829" font-family="Liberation Serif" font-size="27" fill="#2b2526" text-anchor="middle" textLength="12" lengthAdjust="spacingAndGlyphs">2</text>
<text x="2629" y="2785" font-family="Liberation Serif" font-size="28" fill="#2b2526" text-anchor="middle" textLength="12" lengthAdjust="spacingAndGlyphs">1</text>
<text x="2568" y="2965" font-family="Liberation Serif" font-size="59" fill="#2b2526" text-anchor="middle" textLength="70" lengthAdjust="spacingAndGlyphs">SQ</text>
<text x="2611" y="2977" font-family="Liberation Serif" font-size="27" fill="#2b2526" text-anchor="middle" textLength="12" lengthAdjust="spacingAndGlyphs">1</text>
<text x="2629" y="2933" font-family="Liberation Serif" font-size="28" fill="#2b2526" text-anchor="middle" textLength="12" lengthAdjust="spacingAndGlyphs">3</text>
<rect x="203.5" y="3085.5" width="326" height="132" fill="#fdfa9c" stroke="#2a2425" stroke-width="5"/>
<circle cx="281" cy="3152" r="16" fill="#2a2425"/>
<circle cx="368" cy="3152" r="16" fill="#2a2425"/>
<circle cx="457" cy="3152" r="16" fill="#2a2425"/>
<rect x="827.5" y="3085.5" width="323" height="132" fill="#fff200" stroke="#2a2425" stroke-width="5"/>
<circle cx="881" cy="3154" r="14" fill="#2a2425"/>
<circle cx="912" cy="3154" r="14" fill="#2a2425"/>
<circle cx="976" cy="3154" r="14" fill="#2a2425"/>
<circle cx="1007" cy="3154" r="14" fill="#2a2425"/>
<circle cx="1071" cy="3154" r="14" fill="#2a2425"/>
<circle cx="1101" cy="3154" r="14" fill="#2a2425"/>
<rect x="1451.5" y="3085.5" width="325" height="132" fill="#88898c" stroke="#2a2425" stroke-width="5"/>
<rect x="1483" y="3152" width="104" height="7" fill="#2a2425"/><rect x="1640" y="3152" width="102" height="7" fill="#2a2425"/>
<rect x="2075.5" y="3085.5" width="325" height="132" fill="#3a3636" stroke="#2a2425" stroke-width="5"/>
<rect x="2111" y="3135" width="258" height="4" fill="#2a2222"/>
<rect x="2111" y="3150" width="258" height="4" fill="#2a2222"/>
<rect x="2111" y="3165.3" width="258" height="4" fill="#2a2222"/>
<line x1="2132" y1="3186" x2="2160" y2="3125" stroke="#2a2222" stroke-width="4"/>
<line x1="2169" y1="3185" x2="2199" y2="3125" stroke="#2a2222" stroke-width="4"/>
<line x1="2259" y1="3189" x2="2290" y2="3129" stroke="#2a2222" stroke-width="4"/>
<line x1="2294" y1="3189" x2="2325" y2="3128" stroke="#2a2222" stroke-width="4"/>
<rect x="2699.5" y="3085.5" width="325" height="132" fill="#3d4876" stroke="#2a2425" stroke-width="5"/>
<line x1="2769" y1="3217" x2="2815" y2="3086" stroke="#2a2425" stroke-width="5"/>
<line x1="2852" y1="3217" x2="2898" y2="3086" stroke="#2a2425" stroke-width="5"/>
<line x1="2937" y1="3217" x2="2983" y2="3086" stroke="#2a2425" stroke-width="5"/>
<rect x="2807" y="3143" width="53" height="6" fill="#2a2425"/><rect x="2884" y="3143" width="59" height="6" fill="#2a2425"/>
<rect x="203.5" y="3366.5" width="326" height="132" fill="#5bcded" stroke="#2a2425" stroke-width="5"/>
<rect x="303.5" y="3366" width="5" height="133" fill="#2a2425"/>
<rect x="429.5" y="3366" width="5" height="133" fill="#2a2425"/>
<rect x="827.5" y="3366.5" width="323" height="132" fill="#e5782f" stroke="#2a2425" stroke-width="5"/>
<rect x="917" y="3366" width="4" height="133" fill="#2a2425"/>
<rect x="928" y="3366" width="4" height="133" fill="#2a2425"/>
<rect x="939" y="3366" width="4" height="133" fill="#2a2425"/>
<rect x="1037" y="3366" width="4" height="133" fill="#2a2425"/>
<rect x="1048" y="3366" width="4" height="133" fill="#2a2425"/>
<rect x="1060" y="3366" width="4" height="133" fill="#2a2425"/>
<rect x="1451.5" y="3366.5" width="325" height="132" fill="#70afc1" stroke="#2a2425" stroke-width="5"/>
<line x1="1515" y1="3500" x2="1564" y2="3366" stroke="#2a2425" stroke-width="5"/>
<line x1="1600" y1="3500" x2="1649" y2="3366" stroke="#2a2425" stroke-width="5"/>
<line x1="1686" y1="3500" x2="1735" y2="3366" stroke="#2a2425" stroke-width="5"/>
<rect x="2075.5" y="3366.5" width="325" height="132" fill="#fdb991" stroke="#2a2425" stroke-width="5"/>
<circle cx="2149" cy="3432" r="20" fill="none" stroke="#2a2425" stroke-width="4"/>
<circle cx="2238" cy="3432" r="20" fill="none" stroke="#2a2425" stroke-width="4"/>
<circle cx="2321" cy="3432" r="20" fill="none" stroke="#2a2425" stroke-width="4"/>
<rect x="2699.5" y="3366.5" width="325" height="132" fill="#fdfa9c" stroke="#2a2425" stroke-width="5"/>
<circle cx="2788" cy="3429" r="16" fill="#2a2425"/>
<circle cx="2852" cy="3429" r="16" fill="#2a2425"/>
<circle cx="2916" cy="3429" r="13" fill="none" stroke="#2a2425" stroke-width="4"/>
</svg></body></html>
